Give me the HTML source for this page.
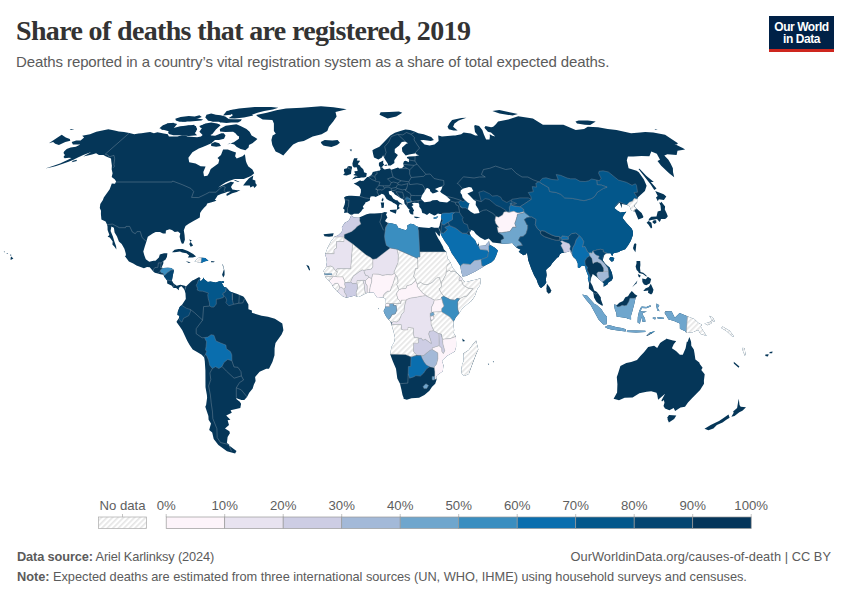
<!DOCTYPE html>
<html><head><meta charset="utf-8">
<style>
html,body{margin:0;padding:0;background:#fff;}
body{width:850px;height:600px;position:relative;overflow:hidden;font-family:"Liberation Sans",sans-serif;}
.t{position:absolute;white-space:nowrap;}
#title{left:16px;top:15px;font-family:"Liberation Serif",serif;font-weight:bold;font-size:28px;letter-spacing:-0.65px;color:#333;}
#sub{left:16px;top:53px;font-size:15px;letter-spacing:-0.1px;color:#5b5b5b;}
#logo{position:absolute;left:769px;top:16px;width:65px;height:33px;background:#002147;border-bottom:3px solid #ce261e;color:#fff;font-weight:bold;font-size:12px;line-height:12px;text-align:center;}
#logo div{padding-top:4.5px;letter-spacing:-0.45px}
.lg{font-size:12.5px;color:#5b5b5b;}
.ft{font-size:12.8px;color:#5b5b5b;}
.ft b{color:#5b5b5b}
svg{position:absolute;left:0;top:0;}
</style></head><body>
<div id="title" class="t">Share of deaths that are registered, 2019</div>
<div id="sub" class="t">Deaths reported in a country’s vital registration system as a share of total expected deaths.</div>
<div id="logo"><div>Our World<br>in Data</div></div>

<svg width="850" height="600" viewBox="0 0 850 600">
<defs>
<pattern id="hatch" width="3.9" height="3.9" patternUnits="userSpaceOnUse" patternTransform="rotate(45)"><rect width="3.9" height="3.9" fill="#fff"/><rect x="0" y="0" width="1.7" height="3.9" fill="#e6e6e6"/></pattern>
</defs>
<g id="legend">
<rect x="98.5" y="517" width="48" height="11.5" fill="url(#hatch)" stroke="#aaa" stroke-width="0.7"/>
<g stroke="#aaa" stroke-width="0.7"><line x1="122.5" y1="514" x2="122.5" y2="517"/><line x1="166.2" y1="514" x2="166.2" y2="517"/><line x1="224.7" y1="514" x2="224.7" y2="517"/><line x1="283.2" y1="514" x2="283.2" y2="517"/><line x1="341.7" y1="514" x2="341.7" y2="517"/><line x1="400.2" y1="514" x2="400.2" y2="517"/><line x1="458.7" y1="514" x2="458.7" y2="517"/><line x1="517.2" y1="514" x2="517.2" y2="517"/><line x1="575.7" y1="514" x2="575.7" y2="517"/><line x1="634.2" y1="514" x2="634.2" y2="517"/><line x1="692.7" y1="514" x2="692.7" y2="517"/><line x1="751.2" y1="514" x2="751.2" y2="517"/></g>
<g stroke="#999" stroke-width="0.7">
<rect x="166.2" y="517" width="58.5" height="11.5" fill="#fdf4fa"/>
<rect x="224.7" y="517" width="58.5" height="11.5" fill="#e8e3f0"/>
<rect x="283.2" y="517" width="58.5" height="11.5" fill="#cdcde4"/>
<rect x="341.7" y="517" width="58.5" height="11.5" fill="#a3b9d8"/>
<rect x="400.2" y="517" width="58.5" height="11.5" fill="#6fa6cd"/>
<rect x="458.7" y="517" width="58.5" height="11.5" fill="#3a8ec0"/>
<rect x="517.2" y="517" width="58.5" height="11.5" fill="#0a6eae"/>
<rect x="575.7" y="517" width="58.5" height="11.5" fill="#03578b"/>
<rect x="634.2" y="517" width="58.5" height="11.5" fill="#044571"/>
<rect x="692.7" y="517" width="58.5" height="11.5" fill="#04355a"/>
</g>
<g font-family="Liberation Sans" font-size="13.2" fill="#5e5e5e" text-anchor="middle">
<text x="122.5" y="510">No data</text>
<text x="166.2" y="510">0%</text>
<text x="224.7" y="510">10%</text>
<text x="283.2" y="510">20%</text>
<text x="341.7" y="510">30%</text>
<text x="400.2" y="510">40%</text>
<text x="458.7" y="510">50%</text>
<text x="517.2" y="510">60%</text>
<text x="575.7" y="510">70%</text>
<text x="634.2" y="510">80%</text>
<text x="692.7" y="510">90%</text>
<text x="751.2" y="510">100%</text>
</g>
</g>
<g id="map"><clipPath id="lc"><path d="M350.9,216.0L352.0,215.7L353.9,217.6L358.6,217.8L362.1,216.3L366.6,214.2L369.9,213.4L374.4,213.4L381.9,213.1L384.7,212.1L387.3,212.6L386.0,214.4L387.4,217.6L385.4,220.2L385.2,221.2L387.6,222.8L392.3,223.5L396.7,224.8L398.1,227.7L403.1,229.5L406.0,230.3L407.6,228.2L407.2,225.6L410.4,223.8L413.7,224.3L416.0,225.9L418.5,226.9L423.2,227.4L429.2,228.0L431.5,226.9L434.4,227.7L438.6,227.7L440.6,232.4L439.6,236.6L437.9,234.7L435.4,231.4L435.8,233.7L438.2,238.4L440.0,241.2L443.0,246.7L443.8,249.3L446.5,251.9L447.5,258.2L450.4,262.3L452.8,268.1L453.3,268.6L456.9,272.7L460.7,276.4L462.4,278.2L461.9,279.3L465.2,282.1L466.4,282.1L470.7,280.8L475.2,279.8L480.4,278.2L480.8,282.1L479.8,285.8L477.6,288.6L474.8,296.2L471.4,300.9L467.6,304.0L463.4,307.6L461.1,310.2L459.1,313.6L455.6,317.5L454.6,319.9L453.4,321.4L453.6,326.9L454.2,330.0L453.7,332.9L455.9,336.5L456.1,342.8L456.1,347.0L454.8,351.4L447.3,355.8L444.9,358.1L442.0,360.8L443.4,365.2L442.8,371.2L437.2,375.3L436.2,376.9L436.7,379.2L435.2,383.7L431.9,387.0L429.4,390.7L424.4,395.1L419.1,397.7L411.5,398.2L406.8,399.8L403.6,398.8L403.5,397.5L402.5,395.1L401.5,389.9L400.0,383.7L397.3,378.5L396.0,368.8L392.8,361.3L390.2,354.2L391.4,347.0L394.2,342.0L395.0,337.8L393.6,332.1L391.6,325.1L390.5,321.7L386.4,317.0L384.8,314.1L383.6,311.0L385.0,308.2L385.9,303.5L385.7,299.0L382.9,297.2L379.5,297.7L377.4,298.0L375.3,294.9L373.5,292.5L369.6,292.5L366.2,293.3L362.9,294.9L358.8,297.0L354.2,295.7L346.2,297.7L342.7,296.2L338.6,292.5L337.0,291.2L333.1,287.1L332.0,284.5L329.1,281.1L325.3,276.9L324.2,272.7L323.5,270.9L325.9,267.5L326.9,262.3L326.5,258.4L325.1,254.5L327.0,249.3L327.7,247.5L331.0,241.2L334.7,236.6L337.9,235.5L341.7,232.1L342.2,230.1L341.9,227.2L344.8,222.8L346.8,221.7L348.6,220.7L350.4,217.6Z"/><path d="M234.6,179.8L239.5,181.8L238.2,182.0L234.3,180.5Z"/><path d="M689.4,337.1L691.1,341.7L691.3,345.7L693.8,349.6L694.5,353.2L695.4,359.4L699.3,362.6L699.8,364.1L702.6,367.8L701.3,370.1L704.7,374.3L703.9,380.8L704.0,383.7L700.1,389.9L695.2,394.9L692.7,397.5L688.0,402.4L685.0,406.8L680.5,407.6L675.1,411.0L673.7,407.9L669.4,410.2L665.0,408.4L663.5,406.0L664.5,402.7L663.8,400.1L662.0,401.6L661.4,400.6L665.1,393.8L658.1,399.8L657.3,395.1L656.5,392.8L651.2,391.2L646.6,391.7L639.4,393.3L632.6,397.5L624.6,397.7L619.0,400.3L613.6,398.8L617.1,392.5L617.4,384.2L616.8,376.9L617.9,374.0L620.4,366.0L626.3,363.1L631.2,362.1L637.0,360.0L640.4,356.1L644.0,352.2L648.2,347.0L654.1,345.7L657.2,348.0L660.1,343.0L662.2,341.5L666.3,339.1L665.7,338.6L673.0,340.4L675.9,341.0L676.1,341.2L673.7,344.3L671.9,348.3L676.0,350.9L679.9,354.8L682.8,354.8L685.6,348.3L686.8,341.7L687.5,342.0Z"/><path d="M230.8,114.7L223.0,115.6L226.7,111.1L233.4,109.7L234.1,112.0Z"/><path d="M257.4,138.9L252.4,143.3L249.0,144.9L248.6,147.4L245.4,150.2L240.6,149.1L236.5,146.7L234.3,144.4L229.7,143.3L227.3,144.4L233.8,142.3L238.9,138.7L239.1,136.5L237.3,135.4L235.4,133.2L233.1,131.7L225.4,132.1L220.1,131.4L219.8,128.9L225.7,125.7L236.4,124.2L240.5,126.1L246.5,128.9L249.6,131.7L251.6,135.4L255.1,137.6Z"/><path d="M189.1,239.4L191.7,240.2L189.3,244.1L190.7,246.7L193.1,245.4L190.4,241.5Z"/><path d="M161.3,128.2L161.7,129.9L166.2,128.9L170.7,127.8L174.4,124.7L173.6,122.8L167.1,123.6L163.1,126.7Z"/><path d="M213.2,121.6L207.4,120.6L210.5,118.6L215.8,118.6Z"/><path d="M614.0,304.5L617.0,305.0L619.3,302.7L623.1,300.9L625.3,297.2L628.0,296.2L629.7,293.6L631.8,291.0L634.3,293.6L634.5,294.1L637.4,295.7L635.6,297.7L634.2,304.3L632.0,312.6L631.0,315.7L631.1,319.6L626.8,318.6L626.8,318.1L623.1,317.5L619.7,317.0L616.7,316.8L616.3,313.1L614.8,309.2Z"/><path d="M366.2,176.8L366.8,173.3L364.0,172.3L363.8,170.8L363.2,169.3L362.2,168.3L360.7,167.1L360.0,165.4L357.7,164.6L358.7,163.9L357.9,163.4L359.4,161.9L360.0,160.7L356.8,160.5L357.6,158.3L354.1,158.3L353.1,161.0L352.4,163.4L352.7,166.1L354.0,167.6L356.7,167.3L357.4,169.5L357.6,171.0L354.4,171.3L354.6,172.5L355.4,173.5L353.2,175.0L355.1,175.5L357.1,175.9L357.5,176.5L355.1,176.5L352.0,179.4L353.4,179.0L355.2,178.6L356.4,178.0L359.4,178.0L361.4,177.5L364.0,177.5Z"/><path d="M652.8,317.5L655.8,317.5L655.2,319.4L652.9,318.8Z"/><path d="M323.5,234.2L333.7,233.2L332.7,236.3L329.0,236.8L324.5,236.3Z"/><path d="M306.2,264.7L308.9,266.0L310.1,270.1L309.2,270.4L307.7,267.5Z"/><path d="M61.7,134.7L65.8,137.6L69.8,138.9L70.3,140.8L65.3,142.1L58.9,144.9L55.2,143.7L53.1,142.1L48.9,143.3Z"/><path d="M462.2,338.6L465.1,341.0L462.8,341.5Z"/><path d="M383.0,197.4L383.5,199.4L382.8,201.5L381.4,200.2Z"/><path d="M414.2,216.5L420.4,217.3L416.5,218.2L414.3,217.6Z"/><path d="M172.0,252.2L174.6,249.8L178.3,249.1L182.5,249.1L187.9,251.1L193.2,254.0L196.1,256.6L192.8,257.4L187.8,257.4L189.2,255.6L186.5,253.2L182.1,252.4L180.0,251.4L176.5,251.9L174.3,252.2Z"/><path d="M433.4,217.8L438.2,216.3L436.9,218.3L434.0,218.9Z"/><path d="M238.0,122.4L230.1,122.6L220.1,122.4L218.2,120.6L223.7,119.0L234.2,119.2L241.8,119.2L240.8,121.0Z"/><path d="M244.0,117.6L234.8,118.6L228.4,118.2L232.7,115.6L231.2,112.0L229.2,110.2L239.0,108.6L254.7,107.0L271.1,106.9L278.4,107.8L272.8,109.4L264.2,111.1L257.5,112.8L252.0,114.7L253.3,115.6Z"/><path d="M351.7,215.2L349.8,214.2L347.5,212.4L344.1,212.9L344.6,209.8L343.1,208.5L344.6,204.6L345.1,202.0L344.8,199.4L344.0,197.6L345.9,196.3L348.9,195.8L351.6,195.8L355.5,196.1L359.7,196.3L360.9,192.2L360.9,189.2L358.9,186.4L353.7,183.6L356.4,182.6L360.2,180.3L361.0,181.0L363.6,180.8L367.2,177.0L368.2,177.0L370.1,176.0L371.9,174.3L372.8,172.0L376.8,171.0L379.9,170.5L380.6,169.5L379.9,167.1L378.9,165.6L378.9,162.7L383.3,160.5L383.1,163.2L384.2,164.6L382.0,167.1L383.1,168.6L384.7,169.5L386.8,169.0L390.0,168.6L391.1,169.8L393.6,169.0L398.0,167.6L399.3,168.6L401.8,168.3L403.7,166.6L403.7,165.4L403.2,163.4L404.0,161.2L405.8,160.7L408.9,162.2L408.9,159.0L407.1,158.3L406.9,156.9L409.0,156.4L415.1,156.2L419.1,155.2L416.6,154.5L415.8,153.3L409.2,154.5L405.7,155.4L404.2,153.8L402.3,151.4L401.9,147.7L406.3,143.7L408.0,143.3L405.2,141.4L401.8,141.9L399.2,145.6L394.8,149.1L394.7,152.6L397.9,155.0L396.9,156.6L394.3,160.2L394.4,162.9L390.7,165.6L388.2,165.6L387.7,163.4L385.7,160.5L384.0,157.4L383.1,155.2L381.9,157.4L378.4,159.5L374.0,157.6L373.1,154.0L372.4,150.2L374.5,149.1L379.4,146.7L382.6,143.5L385.0,141.0L387.9,138.1L390.3,135.4L394.9,132.7L401.1,130.8L405.4,129.5L410.0,130.1L414.5,131.4L418.3,133.2L423.6,134.3L431.2,136.9L433.9,139.9L430.8,141.0L423.6,139.9L420.3,140.3L424.5,144.4L429.6,145.6L434.5,144.4L438.6,141.0L438.2,135.4L436.4,134.9L442.0,136.5L453.4,135.4L455.1,135.4L461.2,134.3L463.6,132.5L470.9,133.6L475.2,135.4L477.9,135.6L475.0,132.1L474.6,128.9L474.2,125.9L475.0,124.9L479.1,126.1L482.3,129.9L483.8,134.3L486.1,139.4L489.5,139.4L489.9,136.5L489.7,134.3L492.4,135.8L495.3,136.5L491.0,132.5L487.9,131.7L484.4,127.8L485.5,126.1L491.1,127.2L493.2,126.7L495.9,124.2L498.1,121.6L508.3,119.6L518.2,116.2L532.9,118.6L542.9,124.7L550.0,124.7L563.4,124.7L575.7,129.9L584.1,128.9L587.8,126.7L598.0,127.2L607.7,128.9L616.5,129.9L631.1,133.2L640.1,132.5L645.2,132.1L653.3,132.5L665.1,134.7L677.9,143.3L676.9,144.4L674.5,144.0L682.7,147.9L685.1,149.5L677.5,150.7L676.6,155.0L667.4,154.2L664.3,155.4L668.4,159.8L670.6,163.4L672.9,168.3L673.0,172.0L674.2,177.3L669.1,173.3L661.2,165.8L657.5,161.0L660.0,159.8L656.8,153.8L651.3,151.4L649.4,156.2L641.4,155.9L633.3,156.6L627.9,156.4L626.8,160.2L628.6,168.3L636.6,170.8L638.8,172.3L643.9,179.5L646.6,185.8L644.9,190.9L638.3,197.1L637.1,199.2L637.1,202.5L634.7,205.1L634.5,206.7L641.6,212.9L643.4,216.8L643.0,217.8L638.3,219.6L635.0,211.6L631.2,210.8L629.7,206.4L627.1,205.1L621.9,204.1L621.8,208.2L619.7,202.8L619.0,203.0L616.8,205.4L614.2,207.9L618.5,211.6L618.4,211.1L620.2,212.6L626.3,211.8L623.6,215.5L622.5,218.1L626.7,223.3L631.8,228.7L632.9,231.6L632.9,235.0L631.0,240.2L630.4,241.5L628.0,245.4L625.2,249.3L620.3,251.1L618.9,251.9L613.5,253.2L612.2,256.3L610.6,253.2L609.2,253.2L606.7,253.2L604.3,255.0L602.8,259.7L602.9,260.5L605.0,263.6L607.9,266.2L609.4,267.3L611.9,272.7L612.9,278.0L611.6,280.6L608.3,282.4L607.3,284.5L603.6,286.8L603.8,283.2L602.3,282.1L601.8,281.6L598.9,279.3L598.6,278.7L596.4,276.7L592.7,274.1L591.8,276.7L591.5,276.4L590.4,281.9L592.5,285.8L593.9,289.7L594.2,290.5L596.3,291.5L597.8,293.1L600.9,297.5L600.8,299.3L603.0,305.3L602.1,305.8L601.4,305.3L598.4,303.5L596.2,301.4L594.0,297.5L593.7,295.1L593.1,292.3L588.8,288.6L589.0,284.5L589.1,283.2L587.8,278.0L588.6,276.9L585.9,270.1L585.2,266.2L581.9,265.5L579.5,268.1L577.8,267.5L577.8,263.6L576.1,259.7L573.2,256.9L569.9,251.1L567.1,251.9L564.1,252.7L561.6,253.0L559.6,254.5L558.8,257.1L557.3,257.6L553.7,261.6L552.3,263.1L550.4,266.0L547.7,268.3L546.0,270.1L546.7,275.1L545.8,279.3L546.3,282.4L544.4,285.2L541.1,288.1L539.7,287.1L537.9,283.4L536.7,279.8L534.2,275.6L531.3,268.8L528.1,259.7L527.7,256.1L526.9,252.4L525.8,254.5L523.6,255.3L520.2,253.0L518.7,251.4L520.8,249.8L517.2,248.0L516.4,247.5L513.4,244.6L512.3,243.1L507.9,243.6L502.8,243.8L501.2,243.6L498.9,243.3L492.6,242.5L488.7,238.4L484.9,239.9L480.2,237.6L475.9,234.0L473.8,231.1L471.2,230.1L469.6,232.7L471.1,236.3L473.9,238.9L475.4,240.7L477.2,244.9L478.8,243.3L477.7,241.2L478.9,244.1L478.8,245.9L485.3,245.4L487.1,243.3L488.5,242.0L489.0,240.5L489.6,244.4L494.9,247.8L497.9,250.6L496.1,255.8L494.2,259.7L491.5,262.3L486.0,264.9L482.1,267.5L475.3,271.4L466.1,275.9L462.5,276.4L461.1,270.7L460.4,266.5L459.9,265.2L456.2,259.7L451.7,253.2L448.6,246.5L444.9,241.5L441.6,236.0L440.6,232.4L438.6,227.7L439.7,225.6L439.9,223.8L440.7,220.9L441.2,219.6L440.9,216.8L441.4,213.9L439.9,213.9L437.9,213.4L435.7,215.0L434.2,215.5L429.4,213.1L427.0,215.0L424.3,213.4L422.3,212.9L421.3,209.2L419.3,206.7L419.3,204.8L418.8,203.5L418.3,203.0L418.1,203.0L414.0,202.8L411.8,203.5L413.6,205.1L411.4,206.4L412.1,206.7L413.7,209.8L414.1,210.5L413.2,211.8L413.4,214.4L411.9,214.4L410.1,213.4L408.8,210.8L409.8,209.8L408.2,208.5L406.5,206.1L404.6,203.8L404.2,201.7L404.1,200.2L402.5,198.9L401.2,198.4L397.5,196.1L394.9,194.5L392.8,191.7L392.1,192.5L391.7,190.7L388.7,191.2L389.0,193.5L389.5,194.5L391.5,195.8L393.1,198.6L395.9,200.2L397.4,200.2L399.0,202.3L401.4,203.5L402.6,204.8L399.8,204.1L398.5,206.4L399.8,207.9L398.6,209.0L396.8,210.0L397.1,207.7L396.9,205.1L394.7,203.5L393.4,203.0L391.8,201.7L389.0,200.4L386.6,198.9L384.8,196.1L384.1,194.8L381.8,193.8L380.0,195.0L379.0,195.3L378.6,195.6L375.7,197.1L374.6,196.6L373.0,196.3L370.7,196.6L369.9,198.6L370.1,200.2L368.0,201.5L365.3,202.5L365.3,203.3L362.8,206.4L363.8,208.5L362.3,209.5L361.3,211.3L358.7,213.7L353.9,213.7Z"/><path d="M349.7,149.5L351.9,149.5L351.1,151.6Z"/><path d="M765.4,354.5L768.7,354.2L767.9,356.6L765.3,356.1Z"/><path d="M769.7,351.9L772.6,351.4L772.1,353.2L769.4,353.2Z"/><path d="M283.3,155.4L279.5,153.3L275.6,151.4L272.3,145.1L271.4,139.9L272.6,135.4L275.8,133.8L273.9,131.0L273.9,127.8L273.9,123.6L272.4,120.0L262.7,119.6L257.6,116.6L256.1,115.1L266.9,112.8L276.3,110.2L286.0,108.6L301.8,107.7L321.0,106.2L333.4,107.3L346.7,109.2L335.5,112.0L336.6,116.6L333.2,121.6L328.9,126.7L327.3,131.0L321.6,134.3L312.7,136.5L303.8,141.0L298.2,142.1L293.1,144.4L289.0,149.1L284.8,153.8Z"/><path d="M611.9,256.9L614.3,257.9L613.4,261.0L611.5,261.8L609.1,259.2L610.3,257.1Z"/><path d="M656.5,303.5L659.3,305.3L657.8,307.9L659.6,311.3L657.3,310.5L656.4,306.6Z"/><path d="M11.1,256.6L13.4,258.4L10.6,260.0L10.6,257.9Z"/><path d="M10.0,254.5L11.7,255.0L10.4,255.8Z"/><path d="M6.8,253.0L8.2,253.7L6.8,254.0Z"/><path d="M3.8,251.4L4.9,251.4L4.2,252.4Z"/><path d="M194.6,261.3L198.9,257.4L205.2,257.9L208.5,260.8L205.1,261.2L201.3,263.1L197.9,262.3L194.8,261.6Z"/><path d="M657.8,201.2L658.8,199.2L663.9,199.9L666.3,196.6L663.7,194.3L655.2,190.9L657.7,196.1L656.0,197.4Z"/><path d="M660.4,203.0L661.3,201.7L665.1,206.4L664.8,209.5L666.5,213.1L667.8,216.3L666.5,218.1L665.1,219.1L660.9,219.1L660.8,219.9L659.6,222.0L657.0,219.1L654.5,219.4L651.5,219.9L648.6,220.7L648.9,218.9L651.2,216.8L656.5,216.5L657.7,211.6L661.0,210.5L660.5,205.6L659.1,202.3Z"/><path d="M320.8,142.1L324.7,140.1L332.3,140.5L337.6,139.9L339.9,142.8L337.0,144.9L331.4,147.0L325.4,146.0L323.3,145.6L321.4,143.5Z"/><path d="M351.3,171.3L351.0,174.0L346.6,175.5L343.1,175.0L344.8,173.0L343.9,171.0L344.1,169.0L347.0,168.3L347.7,166.6L349.2,166.1L351.9,166.6L352.0,168.1L351.6,169.5Z"/><path d="M185.8,261.3L190.7,262.3L188.8,262.9Z"/><path d="M604.8,326.9L608.6,325.1L612.4,325.9L616.7,327.2L621.9,327.9L625.8,329.2L625.6,331.6L617.9,330.5L611.1,329.5L607.5,328.5Z"/><path d="M71.7,162.2L76.8,161.0L76.6,159.8L72.9,160.7Z"/><path d="M648.5,220.9L651.4,222.8L652.2,227.4L651.0,228.5L648.4,224.6L646.6,222.8Z"/><path d="M222.9,264.4L224.5,270.7L224.6,275.1L223.3,277.4L222.1,274.8L223.9,269.4L222.3,264.2Z"/><path d="M627.0,330.5L636.2,330.5L645.4,330.8L645.3,332.1L636.1,332.4L626.9,332.1Z"/><path d="M636.5,261.0L640.2,261.0L640.4,264.9L640.0,268.1L640.5,272.0L643.2,272.7L646.5,275.4L646.6,276.7L642.9,274.1L638.9,273.0L638.2,271.4L636.6,270.1L635.6,266.5L636.5,263.6Z"/><path d="M476.1,340.4L478.3,349.6L476.5,353.5L475.3,356.6L471.5,366.5L468.8,374.0L464.4,375.9L461.9,374.0L461.3,370.1L462.2,363.9L463.7,361.0L463.3,353.5L468.7,350.1L472.9,344.3Z"/><path d="M492.8,361.3L494.0,361.5L493.4,362.6Z"/><path d="M201.3,120.6L190.0,121.6L181.5,121.6L185.6,118.6L195.9,118.2L203.2,119.6Z"/><path d="M643.3,291.0L645.4,288.4L648.8,287.1L650.8,283.7L653.5,289.7L652.6,293.1L651.1,294.6L648.0,292.8L648.3,290.5L644.5,291.0Z"/><path d="M637.8,274.1L640.7,275.4L639.8,277.4L638.6,276.7Z"/><path d="M45.3,168.6L52.1,166.3L60.0,163.4L67.5,160.0L71.5,158.1L69.0,157.8L64.7,158.3L63.5,157.1L64.9,155.0L63.5,153.1L64.1,151.4L66.7,149.1L70.6,147.4L75.9,146.7L80.3,144.6L76.2,144.4L72.9,144.4L71.7,141.9L76.2,140.5L80.6,140.5L84.1,137.6L82.2,135.8L90.0,134.3L96.3,131.7L108.3,129.3L114.6,130.4L118.8,131.4L124.0,131.9L129.3,133.0L134.3,134.3L138.4,133.6L141.5,133.2L146.4,132.5L150.2,132.1L153.9,133.2L157.4,132.3L163.7,133.4L167.8,134.3L168.9,136.5L177.4,136.5L182.0,135.2L185.1,135.4L187.5,136.5L193.9,136.9L197.1,137.2L201.0,136.5L204.6,133.2L210.8,128.9L213.2,129.9L209.6,134.3L211.2,135.4L215.1,135.8L221.3,133.2L223.7,133.2L225.5,135.4L224.0,138.7L219.0,139.9L215.0,139.9L211.4,143.3L206.3,145.6L202.1,147.2L198.8,148.4L192.4,152.3L188.4,157.8L189.1,161.7L189.2,162.2L195.6,163.4L200.6,166.3L205.6,166.6L203.3,172.0L204.0,176.3L207.4,175.8L209.0,173.3L210.7,169.0L215.2,165.8L218.3,163.4L219.3,159.8L217.5,158.1L221.0,155.0L223.1,149.5L227.8,149.5L233.0,151.4L236.0,152.6L235.1,156.2L236.7,158.6L242.5,156.2L244.9,154.2L245.9,161.0L246.8,163.4L248.4,166.6L252.4,169.5L254.2,173.3L251.0,176.0L243.8,179.0L234.8,179.0L229.6,180.8L225.5,182.6L221.6,185.1L218.2,187.6L222.4,185.6L230.8,181.8L234.2,182.6L232.2,184.8L231.0,187.1L232.4,189.4L237.2,190.2L240.4,189.9L236.7,192.0L232.2,193.3L226.8,196.1L226.4,194.0L230.7,191.5L227.5,191.7L225.1,192.7L221.0,194.0L217.6,195.6L215.8,198.4L214.7,199.4L216.4,200.4L214.9,201.2L211.7,202.3L207.2,203.5L206.4,205.6L203.8,207.9L203.0,209.0L201.7,210.5L200.1,213.1L199.8,217.6L197.1,218.9L193.5,220.9L188.7,223.8L185.5,225.9L183.8,230.3L184.6,235.3L184.9,239.7L183.6,243.6L181.9,243.8L180.8,241.2L179.6,236.8L180.3,233.4L178.0,231.6L174.7,231.9L172.0,230.1L169.5,229.3L165.9,230.6L165.7,233.4L163.0,233.4L160.0,232.1L155.7,231.9L153.1,233.2L147.8,236.8L146.4,241.5L144.7,246.7L143.3,251.4L144.3,255.3L145.8,259.2L148.2,261.0L149.3,261.8L153.5,260.8L155.5,260.8L158.9,257.4L159.8,254.5L164.0,253.2L167.4,253.2L166.9,257.1L165.4,259.7L163.4,261.0L163.3,263.6L161.5,267.8L163.3,268.1L167.8,267.8L171.2,268.1L174.0,270.1L172.8,275.4L171.9,280.6L173.4,283.2L176.7,285.8L180.4,284.7L184.7,285.8L186.0,286.5L184.7,290.5L183.6,288.4L181.2,286.0L178.8,287.9L179.0,290.2L176.1,288.1L173.3,288.1L171.9,285.8L167.2,283.4L167.1,280.6L165.3,278.0L164.2,276.7L163.5,274.8L160.3,274.3L157.9,273.5L154.8,272.7L153.3,271.4L149.7,267.3L147.0,267.0L143.9,268.3L136.5,265.5L133.2,263.4L128.9,261.6L127.4,259.5L124.8,256.1L126.0,255.6L125.7,253.2L124.4,248.8L121.7,244.1L118.9,241.5L117.0,236.6L114.6,232.4L113.9,227.7L111.4,226.4L110.6,231.1L112.8,236.3L114.4,241.5L116.1,246.2L116.4,249.6L114.5,246.7L112.4,244.6L112.7,241.5L109.8,237.6L107.6,236.8L109.4,235.0L107.6,230.1L107.5,226.4L107.0,224.6L105.6,221.5L101.4,219.4L100.9,213.9L101.0,210.8L99.8,207.9L100.3,204.1L102.9,199.9L103.8,197.4L109.7,189.2L111.8,183.6L115.0,183.8L116.1,181.5L114.9,179.5L111.7,177.0L112.6,173.3L111.7,169.5L111.7,168.8L111.9,165.8L111.4,162.2L111.0,158.6L108.5,157.4L105.6,156.2L103.5,155.0L98.9,155.0L96.1,153.3L92.1,154.5L83.3,156.6L91.2,152.1L83.3,155.0L77.9,157.4L73.4,159.8L68.5,161.7L62.1,164.1L56.2,166.1L52.3,167.1Z"/><path d="M704.4,323.5L709.1,322.2L712.6,320.1L711.3,323.5L707.7,325.3Z"/><path d="M733.8,361.8L739.4,366.5L738.6,367.8L733.8,363.4Z"/><path d="M256.6,185.8L254.3,187.9L253.3,186.1L250.3,187.4L249.8,185.6L243.1,185.6L245.8,182.0L249.0,178.3L253.3,175.5L252.6,179.5L255.3,180.5L255.5,183.3L256.6,184.6Z"/><path d="M664.6,313.1L665.4,311.3L671.6,311.3L674.8,317.8L679.6,313.1L686.8,316.0L694.3,319.1L698.2,322.7L702.0,324.8L700.7,326.6L702.7,330.0L706.7,336.0L700.5,333.9L698.2,330.0L692.2,332.6L686.4,332.9L685.2,331.3L679.9,328.7L679.8,323.5L673.5,320.7L668.5,319.6L666.8,316.5Z"/><path d="M709.4,315.7L712.8,317.5L714.9,321.2L713.7,321.7L710.4,317.8Z"/><path d="M448.8,129.3L453.5,130.6L457.6,130.6L453.1,126.7L454.5,123.6L458.7,120.6L466.4,117.8L461.3,118.0L452.1,120.0L449.5,123.2L447.5,126.7Z"/><path d="M577.0,123.6L584.8,124.7L590.2,125.1L595.7,121.6L587.8,120.6L578.6,120.6L575.5,121.6Z"/><path d="M738.8,398.8L739.5,405.0L740.7,406.8L746.0,407.3L742.4,410.7L739.3,412.3L734.5,415.9L731.4,416.7L733.7,412.8L733.1,411.5L737.1,408.1L738.2,401.6Z"/><path d="M728.5,414.6L729.6,417.7L726.3,419.8L722.5,422.6L716.9,424.9L713.4,428.5L708.4,430.3L704.5,428.7L710.7,424.9L719.0,421.0L723.5,418.0Z"/><path d="M632.1,287.3L637.4,280.6L636.5,283.2Z"/><path d="M204.1,128.2L200.5,127.8L199.3,126.1L205.1,124.0L208.4,124.7Z"/><path d="M184.8,118.6L177.5,120.0L177.2,118.6L185.6,117.0Z"/><path d="M211.2,261.0L214.8,261.6L213.8,262.3L211.1,262.3Z"/><path d="M487.9,363.6L489.2,363.9L488.5,364.9Z"/><path d="M654.3,189.9L656.5,188.4L650.8,182.0L653.8,182.0L646.2,175.8L639.6,168.8L638.5,169.0L644.8,177.0L650.7,184.6Z"/><path d="M186.0,286.5L190.6,282.1L192.3,280.6L193.7,280.0L199.2,276.9L200.4,278.5L199.6,280.6L201.0,281.1L202.9,279.0L203.5,277.4L204.3,279.3L207.8,281.9L210.3,281.6L215.8,282.6L219.3,281.3L221.5,281.3L221.9,283.2L224.0,287.1L226.3,287.6L229.9,291.5L236.7,293.8L243.3,296.4L244.8,298.3L248.4,304.5L248.4,309.2L251.9,310.5L251.9,312.8L261.6,315.7L268.0,316.8L274.9,318.8L282.3,323.5L283.4,330.3L281.6,334.5L275.5,343.0L274.6,348.3L274.5,355.3L272.4,362.1L269.0,368.8L266.3,368.8L259.6,371.7L255.1,376.9L255.6,381.1L253.8,384.7L252.7,388.6L249.2,392.8L247.0,396.9L244.3,400.1L241.5,400.1L237.8,398.8L236.3,397.7L236.6,399.3L239.6,401.6L241.1,403.7L240.3,408.1L230.6,410.2L231.8,412.8L226.2,415.4L230.4,419.8L227.6,420.3L229.0,424.9L225.0,428.5L229.4,431.3L229.9,433.3L227.6,437.1L226.9,442.9L229.2,444.6L229.1,445.4L236.5,451.1L235.1,453.5L227.0,451.3L218.4,445.1L213.7,438.9L212.2,432.6L209.2,430.0L211.0,423.6L208.6,419.8L208.4,415.9L205.3,406.8L206.1,405.0L207.1,397.7L206.9,395.1L205.5,387.3L205.4,370.6L204.8,361.3L204.2,357.4L201.7,354.8L197.5,352.2L192.7,349.6L189.6,344.9L187.2,340.7L182.3,330.3L180.1,326.9L176.7,322.2L176.6,321.4L178.9,318.3L179.5,315.7L177.4,314.9L177.8,311.8L179.4,307.4L180.1,306.6L182.2,304.5L185.8,299.0L185.5,293.6L184.7,290.5Z"/><path d="M378.1,308.2L379.0,308.4L378.3,309.2Z"/><path d="M380.7,202.5L384.1,202.5L383.8,207.7L381.5,207.9L381.2,205.1Z"/><path d="M657.4,317.0L664.0,317.8L663.3,319.1L657.6,318.6Z"/><path d="M492.4,111.1L499.3,109.9L509.6,112.3L517.9,114.1L512.6,115.6L499.5,113.4Z"/><path d="M656.2,220.2L656.4,222.8L654.4,224.1L652.2,222.0L653.8,220.2Z"/><path d="M389.9,210.0L396.7,209.5L395.9,213.7L390.0,211.3Z"/><path d="M722.6,326.4L729.7,330.8L734.1,336.5L732.5,336.8L726.7,331.3L721.3,327.9Z"/><path d="M211.8,127.8L209.6,126.7L213.8,124.0L220.1,124.0L214.4,126.7Z"/><path d="M221.0,146.0L216.1,146.7L211.2,146.0L211.1,143.7L214.9,141.9L219.2,143.3Z"/><path d="M547.0,283.7L549.5,287.1L551.3,290.5L550.5,292.8L548.4,293.8L546.7,291.5L546.4,288.4Z"/><path d="M639.1,311.3L640.5,307.9L641.7,306.6L646.3,306.9L650.4,305.3L650.9,306.6L646.3,308.2L641.7,307.9L640.7,311.3L642.8,311.5L647.0,311.5L642.8,313.1L642.3,314.1L644.9,318.3L645.5,321.7L642.5,321.7L641.3,317.0L639.9,323.8L637.6,322.5L637.8,317.0Z"/><path d="M582.2,294.6L587.3,295.7L590.2,299.3L594.5,304.0L596.8,305.0L601.4,309.2L603.7,313.1L607.0,317.0L606.5,324.3L603.3,324.6L598.5,319.6L594.3,311.8L590.6,305.0L586.3,300.1Z"/><path d="M379.5,114.7L387.6,118.6L396.2,116.6L402.3,112.8L398.9,111.4L389.1,112.0L380.6,112.3Z"/><path d="M635.1,243.3L636.4,244.1L635.4,252.2L633.5,249.3L633.0,248.0L634.2,244.1Z"/><path d="M669.0,415.1L676.3,415.6L674.1,419.0L668.9,422.6L667.7,419.8L667.5,417.2Z"/><path d="M646.3,335.8L649.8,332.6L655.2,331.1L652.1,333.2L647.2,336.0Z"/><path d="M221.8,281.1L224.1,281.1L223.8,282.9L221.7,282.9Z"/><path d="M742.6,347.7L744.6,348.3L745.6,354.8L744.7,355.8L742.6,350.1Z"/><path d="M193.7,134.3L187.4,133.8L180.3,134.3L173.4,133.6L168.1,133.2L168.7,131.0L172.8,129.5L179.9,126.7L186.2,126.1L194.2,124.7L195.1,126.7L197.0,128.9L196.0,131.7Z"/><path d="M642.2,278.5L645.8,279.3L647.8,276.7L651.2,279.0L650.0,283.2L646.3,285.2L644.0,284.5L642.4,281.9Z"/><path d="M71.3,128.9L74.2,129.5L69.1,130.1Z"/><path d="M654.5,129.5L655.5,128.9L657.7,130.1Z"/><path d="M384.5,166.1L387.5,165.6L386.8,164.4L384.7,164.9Z"/><path d="M159.4,128.2L162.9,125.3L167.6,123.5L173.5,122.9L177.1,124.1L174.7,127.1L172.4,129.4L173.5,130.8L168.8,131.2L164.1,130.0Z"/><path d="M168.8,131.8L172.4,128.2L179.4,126.5L188.8,125.3L195.9,125.9L197.1,129.4L193.5,131.8L197.1,135.3L188.8,135.9L180.6,135.3L173.5,135.3L168.8,134.1Z"/><path d="M175.3,118.8L180.6,117.1L188.8,115.9L194.7,116.5L199.4,115.3L201.8,117.1L197.1,118.8L190.0,120.0L185.3,121.8L179.4,121.8L175.9,120.6Z"/><path d="M200.6,125.9L205.3,123.5L211.2,122.4L217.1,123.5L220.6,125.3L215.9,129.4L212.4,134.1L207.6,136.5L202.9,135.3L199.4,131.8L201.8,128.2Z"/><path d="M206.5,114.7L211.2,113.5L215.9,114.7L220.6,115.3L225.3,116.5L230.0,120.0L232.4,121.8L226.5,122.9L220.6,121.8L213.5,121.8L207.6,120.0L205.3,117.6Z"/></clipPath><g fill="#053658"><path d="M350.9,216.0L352.0,215.7L353.9,217.6L358.6,217.8L362.1,216.3L366.6,214.2L369.9,213.4L374.4,213.4L381.9,213.1L384.7,212.1L387.3,212.6L386.0,214.4L387.4,217.6L385.4,220.2L385.2,221.2L387.6,222.8L392.3,223.5L396.7,224.8L398.1,227.7L403.1,229.5L406.0,230.3L407.6,228.2L407.2,225.6L410.4,223.8L413.7,224.3L416.0,225.9L418.5,226.9L423.2,227.4L429.2,228.0L431.5,226.9L434.4,227.7L438.6,227.7L440.6,232.4L439.6,236.6L437.9,234.7L435.4,231.4L435.8,233.7L438.2,238.4L440.0,241.2L443.0,246.7L443.8,249.3L446.5,251.9L447.5,258.2L450.4,262.3L452.8,268.1L453.3,268.6L456.9,272.7L460.7,276.4L462.4,278.2L461.9,279.3L465.2,282.1L466.4,282.1L470.7,280.8L475.2,279.8L480.4,278.2L480.8,282.1L479.8,285.8L477.6,288.6L474.8,296.2L471.4,300.9L467.6,304.0L463.4,307.6L461.1,310.2L459.1,313.6L455.6,317.5L454.6,319.9L453.4,321.4L453.6,326.9L454.2,330.0L453.7,332.9L455.9,336.5L456.1,342.8L456.1,347.0L454.8,351.4L447.3,355.8L444.9,358.1L442.0,360.8L443.4,365.2L442.8,371.2L437.2,375.3L436.2,376.9L436.7,379.2L435.2,383.7L431.9,387.0L429.4,390.7L424.4,395.1L419.1,397.7L411.5,398.2L406.8,399.8L403.6,398.8L403.5,397.5L402.5,395.1L401.5,389.9L400.0,383.7L397.3,378.5L396.0,368.8L392.8,361.3L390.2,354.2L391.4,347.0L394.2,342.0L395.0,337.8L393.6,332.1L391.6,325.1L390.5,321.7L386.4,317.0L384.8,314.1L383.6,311.0L385.0,308.2L385.9,303.5L385.7,299.0L382.9,297.2L379.5,297.7L377.4,298.0L375.3,294.9L373.5,292.5L369.6,292.5L366.2,293.3L362.9,294.9L358.8,297.0L354.2,295.7L346.2,297.7L342.7,296.2L338.6,292.5L337.0,291.2L333.1,287.1L332.0,284.5L329.1,281.1L325.3,276.9L324.2,272.7L323.5,270.9L325.9,267.5L326.9,262.3L326.5,258.4L325.1,254.5L327.0,249.3L327.7,247.5L331.0,241.2L334.7,236.6L337.9,235.5L341.7,232.1L342.2,230.1L341.9,227.2L344.8,222.8L346.8,221.7L348.6,220.7L350.4,217.6Z"/><path d="M234.6,179.8L239.5,181.8L238.2,182.0L234.3,180.5Z"/><path d="M689.4,337.1L691.1,341.7L691.3,345.7L693.8,349.6L694.5,353.2L695.4,359.4L699.3,362.6L699.8,364.1L702.6,367.8L701.3,370.1L704.7,374.3L703.9,380.8L704.0,383.7L700.1,389.9L695.2,394.9L692.7,397.5L688.0,402.4L685.0,406.8L680.5,407.6L675.1,411.0L673.7,407.9L669.4,410.2L665.0,408.4L663.5,406.0L664.5,402.7L663.8,400.1L662.0,401.6L661.4,400.6L665.1,393.8L658.1,399.8L657.3,395.1L656.5,392.8L651.2,391.2L646.6,391.7L639.4,393.3L632.6,397.5L624.6,397.7L619.0,400.3L613.6,398.8L617.1,392.5L617.4,384.2L616.8,376.9L617.9,374.0L620.4,366.0L626.3,363.1L631.2,362.1L637.0,360.0L640.4,356.1L644.0,352.2L648.2,347.0L654.1,345.7L657.2,348.0L660.1,343.0L662.2,341.5L666.3,339.1L665.7,338.6L673.0,340.4L675.9,341.0L676.1,341.2L673.7,344.3L671.9,348.3L676.0,350.9L679.9,354.8L682.8,354.8L685.6,348.3L686.8,341.7L687.5,342.0Z"/><path d="M230.8,114.7L223.0,115.6L226.7,111.1L233.4,109.7L234.1,112.0Z"/><path d="M257.4,138.9L252.4,143.3L249.0,144.9L248.6,147.4L245.4,150.2L240.6,149.1L236.5,146.7L234.3,144.4L229.7,143.3L227.3,144.4L233.8,142.3L238.9,138.7L239.1,136.5L237.3,135.4L235.4,133.2L233.1,131.7L225.4,132.1L220.1,131.4L219.8,128.9L225.7,125.7L236.4,124.2L240.5,126.1L246.5,128.9L249.6,131.7L251.6,135.4L255.1,137.6Z"/><path d="M189.1,239.4L191.7,240.2L189.3,244.1L190.7,246.7L193.1,245.4L190.4,241.5Z"/><path d="M161.3,128.2L161.7,129.9L166.2,128.9L170.7,127.8L174.4,124.7L173.6,122.8L167.1,123.6L163.1,126.7Z"/><path d="M213.2,121.6L207.4,120.6L210.5,118.6L215.8,118.6Z"/><path d="M614.0,304.5L617.0,305.0L619.3,302.7L623.1,300.9L625.3,297.2L628.0,296.2L629.7,293.6L631.8,291.0L634.3,293.6L634.5,294.1L637.4,295.7L635.6,297.7L634.2,304.3L632.0,312.6L631.0,315.7L631.1,319.6L626.8,318.6L626.8,318.1L623.1,317.5L619.7,317.0L616.7,316.8L616.3,313.1L614.8,309.2Z"/><path d="M366.2,176.8L366.8,173.3L364.0,172.3L363.8,170.8L363.2,169.3L362.2,168.3L360.7,167.1L360.0,165.4L357.7,164.6L358.7,163.9L357.9,163.4L359.4,161.9L360.0,160.7L356.8,160.5L357.6,158.3L354.1,158.3L353.1,161.0L352.4,163.4L352.7,166.1L354.0,167.6L356.7,167.3L357.4,169.5L357.6,171.0L354.4,171.3L354.6,172.5L355.4,173.5L353.2,175.0L355.1,175.5L357.1,175.9L357.5,176.5L355.1,176.5L352.0,179.4L353.4,179.0L355.2,178.6L356.4,178.0L359.4,178.0L361.4,177.5L364.0,177.5Z"/><path d="M652.8,317.5L655.8,317.5L655.2,319.4L652.9,318.8Z"/><path d="M323.5,234.2L333.7,233.2L332.7,236.3L329.0,236.8L324.5,236.3Z"/><path d="M306.2,264.7L308.9,266.0L310.1,270.1L309.2,270.4L307.7,267.5Z"/><path d="M61.7,134.7L65.8,137.6L69.8,138.9L70.3,140.8L65.3,142.1L58.9,144.9L55.2,143.7L53.1,142.1L48.9,143.3Z"/><path d="M462.2,338.6L465.1,341.0L462.8,341.5Z"/><path d="M383.0,197.4L383.5,199.4L382.8,201.5L381.4,200.2Z"/><path d="M414.2,216.5L420.4,217.3L416.5,218.2L414.3,217.6Z"/><path d="M172.0,252.2L174.6,249.8L178.3,249.1L182.5,249.1L187.9,251.1L193.2,254.0L196.1,256.6L192.8,257.4L187.8,257.4L189.2,255.6L186.5,253.2L182.1,252.4L180.0,251.4L176.5,251.9L174.3,252.2Z"/><path d="M433.4,217.8L438.2,216.3L436.9,218.3L434.0,218.9Z"/><path d="M238.0,122.4L230.1,122.6L220.1,122.4L218.2,120.6L223.7,119.0L234.2,119.2L241.8,119.2L240.8,121.0Z"/><path d="M244.0,117.6L234.8,118.6L228.4,118.2L232.7,115.6L231.2,112.0L229.2,110.2L239.0,108.6L254.7,107.0L271.1,106.9L278.4,107.8L272.8,109.4L264.2,111.1L257.5,112.8L252.0,114.7L253.3,115.6Z"/><path d="M351.7,215.2L349.8,214.2L347.5,212.4L344.1,212.9L344.6,209.8L343.1,208.5L344.6,204.6L345.1,202.0L344.8,199.4L344.0,197.6L345.9,196.3L348.9,195.8L351.6,195.8L355.5,196.1L359.7,196.3L360.9,192.2L360.9,189.2L358.9,186.4L353.7,183.6L356.4,182.6L360.2,180.3L361.0,181.0L363.6,180.8L367.2,177.0L368.2,177.0L370.1,176.0L371.9,174.3L372.8,172.0L376.8,171.0L379.9,170.5L380.6,169.5L379.9,167.1L378.9,165.6L378.9,162.7L383.3,160.5L383.1,163.2L384.2,164.6L382.0,167.1L383.1,168.6L384.7,169.5L386.8,169.0L390.0,168.6L391.1,169.8L393.6,169.0L398.0,167.6L399.3,168.6L401.8,168.3L403.7,166.6L403.7,165.4L403.2,163.4L404.0,161.2L405.8,160.7L408.9,162.2L408.9,159.0L407.1,158.3L406.9,156.9L409.0,156.4L415.1,156.2L419.1,155.2L416.6,154.5L415.8,153.3L409.2,154.5L405.7,155.4L404.2,153.8L402.3,151.4L401.9,147.7L406.3,143.7L408.0,143.3L405.2,141.4L401.8,141.9L399.2,145.6L394.8,149.1L394.7,152.6L397.9,155.0L396.9,156.6L394.3,160.2L394.4,162.9L390.7,165.6L388.2,165.6L387.7,163.4L385.7,160.5L384.0,157.4L383.1,155.2L381.9,157.4L378.4,159.5L374.0,157.6L373.1,154.0L372.4,150.2L374.5,149.1L379.4,146.7L382.6,143.5L385.0,141.0L387.9,138.1L390.3,135.4L394.9,132.7L401.1,130.8L405.4,129.5L410.0,130.1L414.5,131.4L418.3,133.2L423.6,134.3L431.2,136.9L433.9,139.9L430.8,141.0L423.6,139.9L420.3,140.3L424.5,144.4L429.6,145.6L434.5,144.4L438.6,141.0L438.2,135.4L436.4,134.9L442.0,136.5L453.4,135.4L455.1,135.4L461.2,134.3L463.6,132.5L470.9,133.6L475.2,135.4L477.9,135.6L475.0,132.1L474.6,128.9L474.2,125.9L475.0,124.9L479.1,126.1L482.3,129.9L483.8,134.3L486.1,139.4L489.5,139.4L489.9,136.5L489.7,134.3L492.4,135.8L495.3,136.5L491.0,132.5L487.9,131.7L484.4,127.8L485.5,126.1L491.1,127.2L493.2,126.7L495.9,124.2L498.1,121.6L508.3,119.6L518.2,116.2L532.9,118.6L542.9,124.7L550.0,124.7L563.4,124.7L575.7,129.9L584.1,128.9L587.8,126.7L598.0,127.2L607.7,128.9L616.5,129.9L631.1,133.2L640.1,132.5L645.2,132.1L653.3,132.5L665.1,134.7L677.9,143.3L676.9,144.4L674.5,144.0L682.7,147.9L685.1,149.5L677.5,150.7L676.6,155.0L667.4,154.2L664.3,155.4L668.4,159.8L670.6,163.4L672.9,168.3L673.0,172.0L674.2,177.3L669.1,173.3L661.2,165.8L657.5,161.0L660.0,159.8L656.8,153.8L651.3,151.4L649.4,156.2L641.4,155.9L633.3,156.6L627.9,156.4L626.8,160.2L628.6,168.3L636.6,170.8L638.8,172.3L643.9,179.5L646.6,185.8L644.9,190.9L638.3,197.1L637.1,199.2L637.1,202.5L634.7,205.1L634.5,206.7L641.6,212.9L643.4,216.8L643.0,217.8L638.3,219.6L635.0,211.6L631.2,210.8L629.7,206.4L627.1,205.1L621.9,204.1L621.8,208.2L619.7,202.8L619.0,203.0L616.8,205.4L614.2,207.9L618.5,211.6L618.4,211.1L620.2,212.6L626.3,211.8L623.6,215.5L622.5,218.1L626.7,223.3L631.8,228.7L632.9,231.6L632.9,235.0L631.0,240.2L630.4,241.5L628.0,245.4L625.2,249.3L620.3,251.1L618.9,251.9L613.5,253.2L612.2,256.3L610.6,253.2L609.2,253.2L606.7,253.2L604.3,255.0L602.8,259.7L602.9,260.5L605.0,263.6L607.9,266.2L609.4,267.3L611.9,272.7L612.9,278.0L611.6,280.6L608.3,282.4L607.3,284.5L603.6,286.8L603.8,283.2L602.3,282.1L601.8,281.6L598.9,279.3L598.6,278.7L596.4,276.7L592.7,274.1L591.8,276.7L591.5,276.4L590.4,281.9L592.5,285.8L593.9,289.7L594.2,290.5L596.3,291.5L597.8,293.1L600.9,297.5L600.8,299.3L603.0,305.3L602.1,305.8L601.4,305.3L598.4,303.5L596.2,301.4L594.0,297.5L593.7,295.1L593.1,292.3L588.8,288.6L589.0,284.5L589.1,283.2L587.8,278.0L588.6,276.9L585.9,270.1L585.2,266.2L581.9,265.5L579.5,268.1L577.8,267.5L577.8,263.6L576.1,259.7L573.2,256.9L569.9,251.1L567.1,251.9L564.1,252.7L561.6,253.0L559.6,254.5L558.8,257.1L557.3,257.6L553.7,261.6L552.3,263.1L550.4,266.0L547.7,268.3L546.0,270.1L546.7,275.1L545.8,279.3L546.3,282.4L544.4,285.2L541.1,288.1L539.7,287.1L537.9,283.4L536.7,279.8L534.2,275.6L531.3,268.8L528.1,259.7L527.7,256.1L526.9,252.4L525.8,254.5L523.6,255.3L520.2,253.0L518.7,251.4L520.8,249.8L517.2,248.0L516.4,247.5L513.4,244.6L512.3,243.1L507.9,243.6L502.8,243.8L501.2,243.6L498.9,243.3L492.6,242.5L488.7,238.4L484.9,239.9L480.2,237.6L475.9,234.0L473.8,231.1L471.2,230.1L469.6,232.7L471.1,236.3L473.9,238.9L475.4,240.7L477.2,244.9L478.8,243.3L477.7,241.2L478.9,244.1L478.8,245.9L485.3,245.4L487.1,243.3L488.5,242.0L489.0,240.5L489.6,244.4L494.9,247.8L497.9,250.6L496.1,255.8L494.2,259.7L491.5,262.3L486.0,264.9L482.1,267.5L475.3,271.4L466.1,275.9L462.5,276.4L461.1,270.7L460.4,266.5L459.9,265.2L456.2,259.7L451.7,253.2L448.6,246.5L444.9,241.5L441.6,236.0L440.6,232.4L438.6,227.7L439.7,225.6L439.9,223.8L440.7,220.9L441.2,219.6L440.9,216.8L441.4,213.9L439.9,213.9L437.9,213.4L435.7,215.0L434.2,215.5L429.4,213.1L427.0,215.0L424.3,213.4L422.3,212.9L421.3,209.2L419.3,206.7L419.3,204.8L418.8,203.5L418.3,203.0L418.1,203.0L414.0,202.8L411.8,203.5L413.6,205.1L411.4,206.4L412.1,206.7L413.7,209.8L414.1,210.5L413.2,211.8L413.4,214.4L411.9,214.4L410.1,213.4L408.8,210.8L409.8,209.8L408.2,208.5L406.5,206.1L404.6,203.8L404.2,201.7L404.1,200.2L402.5,198.9L401.2,198.4L397.5,196.1L394.9,194.5L392.8,191.7L392.1,192.5L391.7,190.7L388.7,191.2L389.0,193.5L389.5,194.5L391.5,195.8L393.1,198.6L395.9,200.2L397.4,200.2L399.0,202.3L401.4,203.5L402.6,204.8L399.8,204.1L398.5,206.4L399.8,207.9L398.6,209.0L396.8,210.0L397.1,207.7L396.9,205.1L394.7,203.5L393.4,203.0L391.8,201.7L389.0,200.4L386.6,198.9L384.8,196.1L384.1,194.8L381.8,193.8L380.0,195.0L379.0,195.3L378.6,195.6L375.7,197.1L374.6,196.6L373.0,196.3L370.7,196.6L369.9,198.6L370.1,200.2L368.0,201.5L365.3,202.5L365.3,203.3L362.8,206.4L363.8,208.5L362.3,209.5L361.3,211.3L358.7,213.7L353.9,213.7Z"/><path d="M349.7,149.5L351.9,149.5L351.1,151.6Z"/><path d="M765.4,354.5L768.7,354.2L767.9,356.6L765.3,356.1Z"/><path d="M769.7,351.9L772.6,351.4L772.1,353.2L769.4,353.2Z"/><path d="M283.3,155.4L279.5,153.3L275.6,151.4L272.3,145.1L271.4,139.9L272.6,135.4L275.8,133.8L273.9,131.0L273.9,127.8L273.9,123.6L272.4,120.0L262.7,119.6L257.6,116.6L256.1,115.1L266.9,112.8L276.3,110.2L286.0,108.6L301.8,107.7L321.0,106.2L333.4,107.3L346.7,109.2L335.5,112.0L336.6,116.6L333.2,121.6L328.9,126.7L327.3,131.0L321.6,134.3L312.7,136.5L303.8,141.0L298.2,142.1L293.1,144.4L289.0,149.1L284.8,153.8Z"/><path d="M611.9,256.9L614.3,257.9L613.4,261.0L611.5,261.8L609.1,259.2L610.3,257.1Z"/><path d="M656.5,303.5L659.3,305.3L657.8,307.9L659.6,311.3L657.3,310.5L656.4,306.6Z"/><path d="M11.1,256.6L13.4,258.4L10.6,260.0L10.6,257.9Z"/><path d="M10.0,254.5L11.7,255.0L10.4,255.8Z"/><path d="M6.8,253.0L8.2,253.7L6.8,254.0Z"/><path d="M3.8,251.4L4.9,251.4L4.2,252.4Z"/><path d="M194.6,261.3L198.9,257.4L205.2,257.9L208.5,260.8L205.1,261.2L201.3,263.1L197.9,262.3L194.8,261.6Z"/><path d="M657.8,201.2L658.8,199.2L663.9,199.9L666.3,196.6L663.7,194.3L655.2,190.9L657.7,196.1L656.0,197.4Z"/><path d="M660.4,203.0L661.3,201.7L665.1,206.4L664.8,209.5L666.5,213.1L667.8,216.3L666.5,218.1L665.1,219.1L660.9,219.1L660.8,219.9L659.6,222.0L657.0,219.1L654.5,219.4L651.5,219.9L648.6,220.7L648.9,218.9L651.2,216.8L656.5,216.5L657.7,211.6L661.0,210.5L660.5,205.6L659.1,202.3Z"/><path d="M320.8,142.1L324.7,140.1L332.3,140.5L337.6,139.9L339.9,142.8L337.0,144.9L331.4,147.0L325.4,146.0L323.3,145.6L321.4,143.5Z"/><path d="M351.3,171.3L351.0,174.0L346.6,175.5L343.1,175.0L344.8,173.0L343.9,171.0L344.1,169.0L347.0,168.3L347.7,166.6L349.2,166.1L351.9,166.6L352.0,168.1L351.6,169.5Z"/><path d="M185.8,261.3L190.7,262.3L188.8,262.9Z"/><path d="M604.8,326.9L608.6,325.1L612.4,325.9L616.7,327.2L621.9,327.9L625.8,329.2L625.6,331.6L617.9,330.5L611.1,329.5L607.5,328.5Z"/><path d="M71.7,162.2L76.8,161.0L76.6,159.8L72.9,160.7Z"/><path d="M648.5,220.9L651.4,222.8L652.2,227.4L651.0,228.5L648.4,224.6L646.6,222.8Z"/><path d="M222.9,264.4L224.5,270.7L224.6,275.1L223.3,277.4L222.1,274.8L223.9,269.4L222.3,264.2Z"/><path d="M627.0,330.5L636.2,330.5L645.4,330.8L645.3,332.1L636.1,332.4L626.9,332.1Z"/><path d="M636.5,261.0L640.2,261.0L640.4,264.9L640.0,268.1L640.5,272.0L643.2,272.7L646.5,275.4L646.6,276.7L642.9,274.1L638.9,273.0L638.2,271.4L636.6,270.1L635.6,266.5L636.5,263.6Z"/><path d="M476.1,340.4L478.3,349.6L476.5,353.5L475.3,356.6L471.5,366.5L468.8,374.0L464.4,375.9L461.9,374.0L461.3,370.1L462.2,363.9L463.7,361.0L463.3,353.5L468.7,350.1L472.9,344.3Z"/><path d="M492.8,361.3L494.0,361.5L493.4,362.6Z"/><path d="M201.3,120.6L190.0,121.6L181.5,121.6L185.6,118.6L195.9,118.2L203.2,119.6Z"/><path d="M643.3,291.0L645.4,288.4L648.8,287.1L650.8,283.7L653.5,289.7L652.6,293.1L651.1,294.6L648.0,292.8L648.3,290.5L644.5,291.0Z"/><path d="M637.8,274.1L640.7,275.4L639.8,277.4L638.6,276.7Z"/><path d="M45.3,168.6L52.1,166.3L60.0,163.4L67.5,160.0L71.5,158.1L69.0,157.8L64.7,158.3L63.5,157.1L64.9,155.0L63.5,153.1L64.1,151.4L66.7,149.1L70.6,147.4L75.9,146.7L80.3,144.6L76.2,144.4L72.9,144.4L71.7,141.9L76.2,140.5L80.6,140.5L84.1,137.6L82.2,135.8L90.0,134.3L96.3,131.7L108.3,129.3L114.6,130.4L118.8,131.4L124.0,131.9L129.3,133.0L134.3,134.3L138.4,133.6L141.5,133.2L146.4,132.5L150.2,132.1L153.9,133.2L157.4,132.3L163.7,133.4L167.8,134.3L168.9,136.5L177.4,136.5L182.0,135.2L185.1,135.4L187.5,136.5L193.9,136.9L197.1,137.2L201.0,136.5L204.6,133.2L210.8,128.9L213.2,129.9L209.6,134.3L211.2,135.4L215.1,135.8L221.3,133.2L223.7,133.2L225.5,135.4L224.0,138.7L219.0,139.9L215.0,139.9L211.4,143.3L206.3,145.6L202.1,147.2L198.8,148.4L192.4,152.3L188.4,157.8L189.1,161.7L189.2,162.2L195.6,163.4L200.6,166.3L205.6,166.6L203.3,172.0L204.0,176.3L207.4,175.8L209.0,173.3L210.7,169.0L215.2,165.8L218.3,163.4L219.3,159.8L217.5,158.1L221.0,155.0L223.1,149.5L227.8,149.5L233.0,151.4L236.0,152.6L235.1,156.2L236.7,158.6L242.5,156.2L244.9,154.2L245.9,161.0L246.8,163.4L248.4,166.6L252.4,169.5L254.2,173.3L251.0,176.0L243.8,179.0L234.8,179.0L229.6,180.8L225.5,182.6L221.6,185.1L218.2,187.6L222.4,185.6L230.8,181.8L234.2,182.6L232.2,184.8L231.0,187.1L232.4,189.4L237.2,190.2L240.4,189.9L236.7,192.0L232.2,193.3L226.8,196.1L226.4,194.0L230.7,191.5L227.5,191.7L225.1,192.7L221.0,194.0L217.6,195.6L215.8,198.4L214.7,199.4L216.4,200.4L214.9,201.2L211.7,202.3L207.2,203.5L206.4,205.6L203.8,207.9L203.0,209.0L201.7,210.5L200.1,213.1L199.8,217.6L197.1,218.9L193.5,220.9L188.7,223.8L185.5,225.9L183.8,230.3L184.6,235.3L184.9,239.7L183.6,243.6L181.9,243.8L180.8,241.2L179.6,236.8L180.3,233.4L178.0,231.6L174.7,231.9L172.0,230.1L169.5,229.3L165.9,230.6L165.7,233.4L163.0,233.4L160.0,232.1L155.7,231.9L153.1,233.2L147.8,236.8L146.4,241.5L144.7,246.7L143.3,251.4L144.3,255.3L145.8,259.2L148.2,261.0L149.3,261.8L153.5,260.8L155.5,260.8L158.9,257.4L159.8,254.5L164.0,253.2L167.4,253.2L166.9,257.1L165.4,259.7L163.4,261.0L163.3,263.6L161.5,267.8L163.3,268.1L167.8,267.8L171.2,268.1L174.0,270.1L172.8,275.4L171.9,280.6L173.4,283.2L176.7,285.8L180.4,284.7L184.7,285.8L186.0,286.5L184.7,290.5L183.6,288.4L181.2,286.0L178.8,287.9L179.0,290.2L176.1,288.1L173.3,288.1L171.9,285.8L167.2,283.4L167.1,280.6L165.3,278.0L164.2,276.7L163.5,274.8L160.3,274.3L157.9,273.5L154.8,272.7L153.3,271.4L149.7,267.3L147.0,267.0L143.9,268.3L136.5,265.5L133.2,263.4L128.9,261.6L127.4,259.5L124.8,256.1L126.0,255.6L125.7,253.2L124.4,248.8L121.7,244.1L118.9,241.5L117.0,236.6L114.6,232.4L113.9,227.7L111.4,226.4L110.6,231.1L112.8,236.3L114.4,241.5L116.1,246.2L116.4,249.6L114.5,246.7L112.4,244.6L112.7,241.5L109.8,237.6L107.6,236.8L109.4,235.0L107.6,230.1L107.5,226.4L107.0,224.6L105.6,221.5L101.4,219.4L100.9,213.9L101.0,210.8L99.8,207.9L100.3,204.1L102.9,199.9L103.8,197.4L109.7,189.2L111.8,183.6L115.0,183.8L116.1,181.5L114.9,179.5L111.7,177.0L112.6,173.3L111.7,169.5L111.7,168.8L111.9,165.8L111.4,162.2L111.0,158.6L108.5,157.4L105.6,156.2L103.5,155.0L98.9,155.0L96.1,153.3L92.1,154.5L83.3,156.6L91.2,152.1L83.3,155.0L77.9,157.4L73.4,159.8L68.5,161.7L62.1,164.1L56.2,166.1L52.3,167.1Z"/><path d="M704.4,323.5L709.1,322.2L712.6,320.1L711.3,323.5L707.7,325.3Z"/><path d="M733.8,361.8L739.4,366.5L738.6,367.8L733.8,363.4Z"/><path d="M256.6,185.8L254.3,187.9L253.3,186.1L250.3,187.4L249.8,185.6L243.1,185.6L245.8,182.0L249.0,178.3L253.3,175.5L252.6,179.5L255.3,180.5L255.5,183.3L256.6,184.6Z"/><path d="M664.6,313.1L665.4,311.3L671.6,311.3L674.8,317.8L679.6,313.1L686.8,316.0L694.3,319.1L698.2,322.7L702.0,324.8L700.7,326.6L702.7,330.0L706.7,336.0L700.5,333.9L698.2,330.0L692.2,332.6L686.4,332.9L685.2,331.3L679.9,328.7L679.8,323.5L673.5,320.7L668.5,319.6L666.8,316.5Z"/><path d="M709.4,315.7L712.8,317.5L714.9,321.2L713.7,321.7L710.4,317.8Z"/><path d="M448.8,129.3L453.5,130.6L457.6,130.6L453.1,126.7L454.5,123.6L458.7,120.6L466.4,117.8L461.3,118.0L452.1,120.0L449.5,123.2L447.5,126.7Z"/><path d="M577.0,123.6L584.8,124.7L590.2,125.1L595.7,121.6L587.8,120.6L578.6,120.6L575.5,121.6Z"/><path d="M738.8,398.8L739.5,405.0L740.7,406.8L746.0,407.3L742.4,410.7L739.3,412.3L734.5,415.9L731.4,416.7L733.7,412.8L733.1,411.5L737.1,408.1L738.2,401.6Z"/><path d="M728.5,414.6L729.6,417.7L726.3,419.8L722.5,422.6L716.9,424.9L713.4,428.5L708.4,430.3L704.5,428.7L710.7,424.9L719.0,421.0L723.5,418.0Z"/><path d="M632.1,287.3L637.4,280.6L636.5,283.2Z"/><path d="M204.1,128.2L200.5,127.8L199.3,126.1L205.1,124.0L208.4,124.7Z"/><path d="M184.8,118.6L177.5,120.0L177.2,118.6L185.6,117.0Z"/><path d="M211.2,261.0L214.8,261.6L213.8,262.3L211.1,262.3Z"/><path d="M487.9,363.6L489.2,363.9L488.5,364.9Z"/><path d="M654.3,189.9L656.5,188.4L650.8,182.0L653.8,182.0L646.2,175.8L639.6,168.8L638.5,169.0L644.8,177.0L650.7,184.6Z"/><path d="M186.0,286.5L190.6,282.1L192.3,280.6L193.7,280.0L199.2,276.9L200.4,278.5L199.6,280.6L201.0,281.1L202.9,279.0L203.5,277.4L204.3,279.3L207.8,281.9L210.3,281.6L215.8,282.6L219.3,281.3L221.5,281.3L221.9,283.2L224.0,287.1L226.3,287.6L229.9,291.5L236.7,293.8L243.3,296.4L244.8,298.3L248.4,304.5L248.4,309.2L251.9,310.5L251.9,312.8L261.6,315.7L268.0,316.8L274.9,318.8L282.3,323.5L283.4,330.3L281.6,334.5L275.5,343.0L274.6,348.3L274.5,355.3L272.4,362.1L269.0,368.8L266.3,368.8L259.6,371.7L255.1,376.9L255.6,381.1L253.8,384.7L252.7,388.6L249.2,392.8L247.0,396.9L244.3,400.1L241.5,400.1L237.8,398.8L236.3,397.7L236.6,399.3L239.6,401.6L241.1,403.7L240.3,408.1L230.6,410.2L231.8,412.8L226.2,415.4L230.4,419.8L227.6,420.3L229.0,424.9L225.0,428.5L229.4,431.3L229.9,433.3L227.6,437.1L226.9,442.9L229.2,444.6L229.1,445.4L236.5,451.1L235.1,453.5L227.0,451.3L218.4,445.1L213.7,438.9L212.2,432.6L209.2,430.0L211.0,423.6L208.6,419.8L208.4,415.9L205.3,406.8L206.1,405.0L207.1,397.7L206.9,395.1L205.5,387.3L205.4,370.6L204.8,361.3L204.2,357.4L201.7,354.8L197.5,352.2L192.7,349.6L189.6,344.9L187.2,340.7L182.3,330.3L180.1,326.9L176.7,322.2L176.6,321.4L178.9,318.3L179.5,315.7L177.4,314.9L177.8,311.8L179.4,307.4L180.1,306.6L182.2,304.5L185.8,299.0L185.5,293.6L184.7,290.5Z"/><path d="M378.1,308.2L379.0,308.4L378.3,309.2Z"/><path d="M380.7,202.5L384.1,202.5L383.8,207.7L381.5,207.9L381.2,205.1Z"/><path d="M657.4,317.0L664.0,317.8L663.3,319.1L657.6,318.6Z"/><path d="M492.4,111.1L499.3,109.9L509.6,112.3L517.9,114.1L512.6,115.6L499.5,113.4Z"/><path d="M656.2,220.2L656.4,222.8L654.4,224.1L652.2,222.0L653.8,220.2Z"/><path d="M389.9,210.0L396.7,209.5L395.9,213.7L390.0,211.3Z"/><path d="M722.6,326.4L729.7,330.8L734.1,336.5L732.5,336.8L726.7,331.3L721.3,327.9Z"/><path d="M211.8,127.8L209.6,126.7L213.8,124.0L220.1,124.0L214.4,126.7Z"/><path d="M221.0,146.0L216.1,146.7L211.2,146.0L211.1,143.7L214.9,141.9L219.2,143.3Z"/><path d="M547.0,283.7L549.5,287.1L551.3,290.5L550.5,292.8L548.4,293.8L546.7,291.5L546.4,288.4Z"/><path d="M639.1,311.3L640.5,307.9L641.7,306.6L646.3,306.9L650.4,305.3L650.9,306.6L646.3,308.2L641.7,307.9L640.7,311.3L642.8,311.5L647.0,311.5L642.8,313.1L642.3,314.1L644.9,318.3L645.5,321.7L642.5,321.7L641.3,317.0L639.9,323.8L637.6,322.5L637.8,317.0Z"/><path d="M582.2,294.6L587.3,295.7L590.2,299.3L594.5,304.0L596.8,305.0L601.4,309.2L603.7,313.1L607.0,317.0L606.5,324.3L603.3,324.6L598.5,319.6L594.3,311.8L590.6,305.0L586.3,300.1Z"/><path d="M379.5,114.7L387.6,118.6L396.2,116.6L402.3,112.8L398.9,111.4L389.1,112.0L380.6,112.3Z"/><path d="M635.1,243.3L636.4,244.1L635.4,252.2L633.5,249.3L633.0,248.0L634.2,244.1Z"/><path d="M669.0,415.1L676.3,415.6L674.1,419.0L668.9,422.6L667.7,419.8L667.5,417.2Z"/><path d="M646.3,335.8L649.8,332.6L655.2,331.1L652.1,333.2L647.2,336.0Z"/><path d="M221.8,281.1L224.1,281.1L223.8,282.9L221.7,282.9Z"/><path d="M742.6,347.7L744.6,348.3L745.6,354.8L744.7,355.8L742.6,350.1Z"/><path d="M193.7,134.3L187.4,133.8L180.3,134.3L173.4,133.6L168.1,133.2L168.7,131.0L172.8,129.5L179.9,126.7L186.2,126.1L194.2,124.7L195.1,126.7L197.0,128.9L196.0,131.7Z"/><path d="M642.2,278.5L645.8,279.3L647.8,276.7L651.2,279.0L650.0,283.2L646.3,285.2L644.0,284.5L642.4,281.9Z"/><path d="M71.3,128.9L74.2,129.5L69.1,130.1Z"/><path d="M654.5,129.5L655.5,128.9L657.7,130.1Z"/><path d="M384.5,166.1L387.5,165.6L386.8,164.4L384.7,164.9Z"/><path d="M159.4,128.2L162.9,125.3L167.6,123.5L173.5,122.9L177.1,124.1L174.7,127.1L172.4,129.4L173.5,130.8L168.8,131.2L164.1,130.0Z"/><path d="M168.8,131.8L172.4,128.2L179.4,126.5L188.8,125.3L195.9,125.9L197.1,129.4L193.5,131.8L197.1,135.3L188.8,135.9L180.6,135.3L173.5,135.3L168.8,134.1Z"/><path d="M175.3,118.8L180.6,117.1L188.8,115.9L194.7,116.5L199.4,115.3L201.8,117.1L197.1,118.8L190.0,120.0L185.3,121.8L179.4,121.8L175.9,120.6Z"/><path d="M200.6,125.9L205.3,123.5L211.2,122.4L217.1,123.5L220.6,125.3L215.9,129.4L212.4,134.1L207.6,136.5L202.9,135.3L199.4,131.8L201.8,128.2Z"/><path d="M206.5,114.7L211.2,113.5L215.9,114.7L220.6,115.3L225.3,116.5L230.0,120.0L232.4,121.8L226.5,122.9L220.6,121.8L213.5,121.8L207.6,120.0L205.3,117.6Z"/></g><g clip-path="url(#lc)" stroke-width="0.45" stroke-linejoin="round"><path d="M358.6,215.5L359.7,218.3L359.5,220.7L360.8,224.1L357.0,226.4L355.3,228.5L351.7,231.4L344.1,234.5L344.1,237.1L332.3,237.1L338.0,232.4L340.3,227.2L342.7,222.0L349.3,216.8L351.5,214.7Z" fill="#cdcde4" stroke="#b8b8b8"/><path d="M344.1,237.1L344.0,241.5L336.6,241.5L336.5,248.0L334.0,249.8L334.1,253.7L322.8,253.7L325.3,246.7L329.9,240.2L332.3,237.1Z" fill="url(#hatch)" stroke="#b8b8b8"/><path d="M344.0,238.1L352.7,244.1L350.9,266.5L350.9,268.8L337.2,268.8L335.6,270.9L332.7,267.0L330.5,266.0L325.9,267.3L323.6,267.3L324.0,253.7L334.1,253.7L334.0,249.8L336.5,248.0L336.6,241.5L344.0,241.5Z" fill="#e8e3f0" stroke="#b8b8b8"/><path d="M352.7,244.1L366.1,255.0L370.6,257.6L372.9,259.5L372.9,266.5L371.4,269.1L363.9,270.4L362.3,269.9L358.8,272.0L356.6,273.8L353.4,276.1L351.3,280.0L350.8,282.1L349.2,282.6L346.0,282.6L344.9,282.6L344.4,280.6L342.8,276.9L337.4,276.9L335.5,276.4L337.4,271.7L335.6,270.9L337.2,268.8L350.9,268.8L350.9,266.5Z" fill="url(#hatch)" stroke="#b8b8b8"/><path d="M372.9,259.5L376.5,258.7L390.3,248.0L397.1,249.3L398.4,255.3L398.1,262.6L394.2,271.7L394.4,273.5L391.5,275.1L387.8,274.6L382.6,275.4L378.7,274.3L372.8,274.1L371.6,278.7L368.9,277.2L368.2,276.1L365.7,275.4L364.3,272.7L363.9,270.4L371.4,269.1L372.9,266.5Z" fill="#e8e3f0" stroke="#b8b8b8"/><path d="M397.1,249.3L417.7,258.4L418.0,268.3L415.5,268.8L414.7,272.5L413.6,276.4L415.8,279.5L415.6,280.8L411.5,284.5L406.9,285.8L406.0,288.4L401.2,288.9L399.0,289.7L396.6,284.5L398.0,283.2L397.7,278.5L396.7,276.4L395.8,275.1L394.4,273.5L394.2,271.7L398.1,262.6L398.4,255.3Z" fill="url(#hatch)" stroke="#b8b8b8"/><path d="M419.7,251.9L446.5,251.9L448.9,251.9L451.7,261.0L450.9,262.3L447.4,264.9L446.3,271.7L445.8,275.4L444.9,276.4L443.2,279.8L441.9,281.6L441.5,284.5L441.0,283.2L439.3,277.4L436.5,278.0L432.1,282.6L427.5,284.7L424.1,284.5L420.6,282.4L417.2,284.2L415.6,280.8L415.8,279.5L413.6,276.4L414.7,272.5L415.5,268.8L418.0,268.3L417.7,258.4L417.6,257.1L419.9,257.1Z" fill="url(#hatch)" stroke="#b8b8b8"/><path d="M417.2,284.2L420.6,282.4L424.1,284.5L427.5,284.7L432.1,282.6L436.5,278.0L439.3,277.4L441.0,283.2L441.5,284.5L441.3,287.1L439.1,288.9L441.4,293.1L443.8,296.2L441.5,297.2L441.5,298.3L440.4,299.3L436.9,300.1L434.2,300.1L430.0,297.7L426.6,296.2L426.3,295.4L423.1,293.6L420.8,291.0L417.3,286.5Z" fill="url(#hatch)" stroke="#b8b8b8"/><path d="M446.3,271.7L446.4,267.5L447.4,264.9L450.9,262.3L451.7,261.0L454.4,267.5L456.8,271.4L462.7,276.4L460.2,276.7L458.1,274.1L454.8,271.4L452.3,271.2L450.9,271.7L449.7,270.4Z" fill="url(#hatch)" stroke="#b8b8b8"/><path d="M458.9,278.7L460.2,276.7L462.7,276.4L463.1,279.3L461.5,280.6L459.0,280.6Z" fill="#e8e3f0" stroke="#b8b8b8"/><path d="M441.5,284.5L441.9,281.6L443.2,279.8L444.9,276.4L445.8,275.4L446.3,271.7L449.7,270.4L450.9,271.7L452.3,271.2L454.8,271.4L458.1,274.1L460.2,276.7L458.9,278.7L459.0,280.6L461.5,280.6L463.0,284.5L464.2,285.8L468.9,288.4L473.2,288.4L466.8,296.2L464.5,296.4L462.2,297.5L459.7,298.8L457.1,298.3L455.1,300.1L450.7,299.8L446.1,297.5L443.8,296.2L441.4,293.1L439.1,288.9L441.3,287.1Z" fill="url(#hatch)" stroke="#b8b8b8"/><path d="M461.5,280.6L463.1,279.3L464.0,280.6L468.6,279.3L475.4,278.5L481.1,277.4L481.9,281.9L478.1,291.0L474.8,296.7L469.2,304.5L462.3,311.8L459.1,313.6L457.7,309.2L457.6,301.9L459.7,298.8L462.2,297.5L464.5,296.4L466.8,296.2L473.2,288.4L468.9,288.4L464.2,285.8L463.0,284.5Z" fill="url(#hatch)" stroke="#b8b8b8"/><path d="M459.1,313.6L457.7,309.2L457.6,301.9L459.7,298.8L457.1,298.3L455.1,300.1L450.7,299.8L446.1,297.5L443.8,296.2L441.5,297.2L441.5,298.3L442.7,302.7L443.9,306.1L441.6,308.7L441.4,311.8L449.8,317.0L453.4,321.4L455.3,319.6L457.7,315.7Z" fill="#3a8ec0" stroke="#6f8294"/><path d="M441.5,298.3L440.4,299.3L436.9,300.1L434.2,300.1L433.5,303.0L431.5,307.1L431.5,312.8L433.5,312.1L441.4,311.8L441.6,308.7L443.9,306.1L442.7,302.7Z" fill="#fdf4fa" stroke="#b8b8b8"/><path d="M430.1,313.1L433.5,312.1L434.4,314.4L433.5,315.7L430.1,316.5Z" fill="#6fa6cd" stroke="#6f8294"/><path d="M430.1,316.5L433.5,315.7L434.2,318.3L431.6,320.9L430.5,318.3Z" fill="#fdf4fa" stroke="#b8b8b8"/><path d="M441.4,311.8L449.8,317.0L453.4,321.4L455.3,322.2L455.1,330.0L457.2,336.5L455.9,336.5L450.3,338.6L444.6,339.1L442.5,339.4L441.3,333.9L438.8,333.7L434.9,331.6L433.8,330.8L431.1,324.8L430.9,320.9L431.6,320.9L434.2,318.3L433.5,315.7L434.4,314.4L433.5,312.1Z" fill="url(#hatch)" stroke="#b8b8b8"/><path d="M390.9,325.3L393.2,324.6L401.1,324.6L401.5,329.5L403.5,330.0L407.9,330.0L408.1,327.4L413.4,328.2L413.3,333.9L414.4,337.8L418.3,337.8L418.3,338.4L421.3,338.4L422.8,340.2L425.6,339.4L428.3,341.5L431.4,343.8L431.0,341.0L428.7,333.9L429.6,331.3L433.8,330.8L431.1,324.8L430.9,320.9L430.5,318.3L430.1,316.5L430.1,313.1L431.5,312.8L431.5,307.1L433.5,303.0L434.2,300.1L430.0,297.7L426.6,296.2L426.3,295.4L420.8,296.2L416.2,297.2L410.5,298.0L407.1,299.3L406.1,300.1L404.3,306.6L403.9,311.8L401.3,314.4L400.6,317.0L399.0,320.4L396.7,322.0L393.5,321.4L392.3,322.2Z" fill="#e8e3f0" stroke="#b8b8b8"/><path d="M387.5,319.6L391.0,322.2L392.3,322.2L393.5,321.4L396.7,322.0L399.0,320.4L400.6,317.0L401.3,314.4L403.9,311.8L404.3,306.6L406.1,300.1L401.3,300.1L400.6,303.5L396.7,303.5L394.0,303.5L393.3,305.6L396.1,305.6L396.7,310.5L395.1,313.9L392.1,314.4L390.3,317.8L388.9,319.4Z" fill="url(#hatch)" stroke="#b8b8b8"/><path d="M384.8,306.6L389.4,306.6L389.4,303.5L394.0,303.5L393.3,305.6L396.1,305.6L396.7,310.5L395.1,313.9L392.1,314.4L390.3,317.8L388.9,319.4L386.4,319.1L382.5,311.8L384.1,306.6Z" fill="#6fa6cd" stroke="#6f8294"/><path d="M384.8,306.6L389.4,306.6L389.4,303.5L385.9,303.5L384.1,305.3Z" fill="#fdf4fa" stroke="#b8b8b8"/><path d="M382.9,297.2L384.1,301.4L385.9,303.5L389.4,303.5L394.0,303.5L396.7,303.5L400.6,303.5L400.4,301.4L397.9,298.8L396.9,295.4L396.7,293.1L399.0,289.7L396.6,284.5L398.0,283.2L397.7,278.5L396.7,276.4L395.8,275.1L394.9,277.2L392.7,284.5L391.4,287.3L390.2,291.0L387.5,291.2L385.2,293.1L383.6,294.9Z" fill="url(#hatch)" stroke="#b8b8b8"/><path d="M399.0,289.7L401.2,288.9L406.0,288.4L406.9,285.8L411.5,284.5L415.6,280.8L417.2,284.2L417.3,286.5L420.8,291.0L423.1,293.6L426.3,295.4L420.8,296.2L416.2,297.2L410.5,298.0L407.1,299.3L406.1,300.1L401.3,300.1L400.6,303.5L400.4,301.4L397.9,298.8L396.9,295.4L396.7,293.1Z" fill="#fdf4fa" stroke="#b8b8b8"/><path d="M369.6,292.5L369.6,289.7L370.3,285.8L371.6,281.9L371.6,278.7L372.8,274.1L378.7,274.3L382.6,275.4L387.8,274.6L391.5,275.1L394.4,273.5L395.8,275.1L394.9,277.2L392.7,284.5L391.4,287.3L390.2,291.0L387.5,291.2L385.2,293.1L383.6,294.9L382.9,297.2L381.8,300.1L377.2,300.1L372.6,294.9L369.6,294.9Z" fill="#fdf4fa" stroke="#b8b8b8"/><path d="M367.1,294.9L369.6,294.9L369.6,292.5L369.6,289.7L370.3,285.8L371.6,281.9L371.6,278.7L368.9,277.2L366.6,279.5L365.5,280.6L365.5,283.2L367.1,285.8L367.1,293.1Z" fill="#fdf4fa" stroke="#b8b8b8"/><path d="M366.2,294.9L367.1,294.9L367.1,293.1L367.1,285.8L365.5,283.2L365.5,280.6L363.4,280.3L363.2,281.6L364.1,284.5L364.5,288.4L364.8,291.2L366.2,293.3Z" fill="#e8e3f0" stroke="#b8b8b8"/><path d="M356.3,298.0L358.8,298.8L366.2,294.9L366.2,293.3L364.8,291.2L364.5,288.4L364.1,284.5L363.2,281.6L363.4,280.3L357.0,280.6L356.8,283.9L357.2,284.5L357.4,288.4L356.1,292.3L356.3,295.9Z" fill="url(#hatch)" stroke="#b8b8b8"/><path d="M350.8,282.1L351.3,280.0L353.4,276.1L356.6,273.8L358.8,272.0L362.3,269.9L363.9,270.4L364.3,272.7L365.7,275.4L368.2,276.1L368.9,277.2L366.6,279.5L365.5,280.6L363.4,280.3L357.0,280.6L356.8,283.9L355.2,283.4L352.6,283.7Z" fill="#e8e3f0" stroke="#b8b8b8"/><path d="M346.2,298.8L356.3,298.0L356.3,295.9L356.1,292.3L357.4,288.4L357.2,284.5L356.8,283.9L355.2,283.4L352.6,283.7L350.8,282.1L349.2,282.6L346.0,282.6L344.9,282.6L344.6,284.5L345.5,287.1L343.9,289.2L344.4,292.3L346.2,294.9Z" fill="#cdcde4" stroke="#b8b8b8"/><path d="M346.2,298.8L341.6,297.5L336.3,291.8L337.0,291.2L338.6,289.7L339.8,287.1L341.6,287.3L343.9,289.2L344.4,292.3L346.2,294.9Z" fill="#e8e3f0" stroke="#b8b8b8"/><path d="M337.0,291.2L338.6,289.7L339.8,287.1L338.9,285.0L337.8,283.2L334.8,283.4L332.9,285.5L331.8,287.1L335.9,292.3Z" fill="url(#hatch)" stroke="#b8b8b8"/><path d="M332.9,285.5L334.8,283.4L337.8,283.2L338.9,285.0L339.8,287.1L341.6,287.3L343.9,289.2L345.5,287.1L344.6,284.5L344.9,282.6L344.4,280.6L342.8,276.9L337.4,276.9L335.5,276.4L332.1,276.1L332.1,278.0L329.1,280.6L327.9,281.9L331.3,285.8Z" fill="#fdf4fa" stroke="#b8b8b8"/><path d="M332.1,276.1L325.3,276.9L324.5,279.3L327.9,281.9L329.1,280.6L332.1,278.0Z" fill="url(#hatch)" stroke="#b8b8b8"/><path d="M325.3,276.9L332.1,276.1L335.5,276.4L337.4,271.7L335.6,270.9L332.7,267.0L330.5,266.0L325.9,267.3L323.6,267.5L322.9,270.9L323.9,276.9Z" fill="url(#hatch)" stroke="#b8b8b8"/><path d="M324.2,273.7L331.9,273.7L331.9,274.6L324.2,274.6Z" fill="#0a6eae" stroke="#6f8294"/><path d="M388.5,222.8L385.8,227.2L385.2,230.6L384.5,236.3L385.0,240.2L386.3,245.4L390.3,248.0L397.1,249.3L417.7,258.4L417.6,257.1L419.9,257.1L419.7,251.9L418.6,231.1L418.0,228.5L418.5,226.9L418.0,223.3L407.0,222.0L388.4,220.7Z" fill="#3a8ec0" stroke="#6f8294"/><path d="M413.6,343.0L413.4,351.4L416.5,355.0L420.8,355.5L423.5,355.8L427.0,352.7L430.5,350.1L432.6,349.8L432.2,348.0L439.1,345.7L439.2,341.7L439.0,333.9L438.8,333.7L434.9,331.6L433.8,330.8L429.6,331.3L428.7,333.9L431.0,341.0L431.4,343.8L428.3,341.5L425.6,339.4L422.8,340.2L421.3,338.4L418.3,338.4L418.2,343.0Z" fill="#cdcde4" stroke="#b8b8b8"/><path d="M438.8,333.7L441.0,334.2L442.5,339.4L443.0,344.3L443.8,347.0L444.8,350.9L443.3,353.7L441.8,351.4L441.7,348.3L439.1,345.7L439.2,341.7L439.0,333.9Z" fill="#cdcde4" stroke="#b8b8b8"/><path d="M455.9,336.5L457.3,335.2L457.9,348.3L449.5,357.4L443.5,363.9L443.7,371.7L437.1,376.9L436.7,379.2L434.7,379.0L434.6,376.6L434.9,375.6L434.9,371.7L434.3,367.3L433.8,367.5L436.5,363.9L437.8,358.7L437.7,352.9L432.6,349.8L432.2,348.0L439.1,345.7L441.7,348.3L441.8,351.4L443.3,353.7L444.8,350.9L443.8,347.0L443.0,344.3L442.5,339.4L444.6,339.1L450.3,338.6Z" fill="#fdf4fa" stroke="#b8b8b8"/><path d="M420.8,355.5L423.5,355.8L427.0,352.7L430.5,350.1L432.6,349.8L437.7,352.9L437.8,358.7L436.5,363.9L433.8,367.5L429.6,366.7L426.5,365.2L424.3,362.6L422.2,358.7Z" fill="#a3b9d8" stroke="#b8b8b8"/><path d="M408.4,366.5L408.2,373.8L409.6,378.2L413.6,376.9L415.9,375.6L420.4,376.1L423.7,373.0L426.3,369.1L429.6,366.7L426.5,365.2L424.3,362.6L422.2,358.7L420.8,355.5L416.2,355.8L411.0,356.8L410.7,366.5Z" fill="#0a6eae" stroke="#6f8294"/><path d="M423.1,386.5L425.9,383.7L428.5,385.5L426.7,388.6L424.0,388.6Z" fill="#6fa6cd" stroke="#6f8294"/><path d="M432.2,376.4L434.9,376.6L434.4,380.0L432.4,380.0L432.1,378.2Z" fill="#6fa6cd" stroke="#6f8294"/><path d="M389.8,322.2L390.9,325.3L393.2,324.6L401.1,324.6L401.5,329.5L403.5,330.0L407.9,330.0L408.1,327.4L413.4,328.2L413.3,333.9L414.4,337.8L418.3,337.8L418.2,343.0L413.6,343.0L413.4,351.4L416.5,355.0L411.0,356.8L408.7,355.8L405.4,354.5L394.7,354.2L390.2,354.2L388.4,354.2L389.7,343.0L392.1,330.0Z" fill="url(#hatch)" stroke="#b8b8b8"/><path d="M476.1,339.1L479.4,349.6L476.5,353.5L471.5,366.5L468.7,375.6L464.3,376.9L460.8,374.0L459.9,370.1L461.0,363.9L462.8,353.5L468.8,349.0L473.0,343.0Z" fill="url(#hatch)" stroke="#b8b8b8"/><path d="M439.8,233.7L440.8,232.7L443.3,233.2L444.1,232.4L447.2,229.8L444.7,227.2L449.3,225.4L455.8,228.2L462.3,233.2L466.6,233.4L468.8,235.0L470.8,235.0L472.2,236.3L476.0,240.2L477.2,244.9L478.8,245.9L480.2,249.3L487.5,250.1L488.6,251.9L487.6,257.1L481.1,259.7L474.4,260.8L470.1,264.9L468.9,264.4L463.2,263.9L461.5,264.9L460.7,266.5L458.8,266.5L456.2,259.7L451.3,253.2L448.2,246.5L444.7,241.5L441.1,236.3Z" fill="#0a6eae" stroke="#6f8294"/><path d="M460.7,266.5L461.5,264.9L463.2,263.9L468.9,264.4L470.1,264.9L474.4,260.8L481.1,259.7L482.0,266.0L484.0,266.0L484.0,268.8L475.1,272.7L466.2,277.2L462.3,277.2L460.2,271.4L459.3,266.5Z" fill="#a3b9d8" stroke="#b8b8b8"/><path d="M482.0,266.0L481.1,259.7L487.6,257.1L488.6,251.9L488.5,246.2L489.6,244.4L491.1,245.4L495.8,247.5L499.0,250.6L496.6,256.3L494.3,261.0L488.3,264.9L484.0,266.0Z" fill="#0a6eae" stroke="#6f8294"/><path d="M478.8,245.9L480.2,249.3L487.5,250.1L488.6,251.9L488.5,246.2L489.6,244.4L489.8,242.0L488.4,241.5L486.3,242.8L484.3,244.4L479.9,245.4Z" fill="#a3b9d8" stroke="#b8b8b8"/><path d="M449.3,225.4L455.8,228.2L462.3,233.2L466.6,233.4L468.7,230.8L470.7,232.4L471.2,230.1L469.2,229.8L468.4,228.5L467.4,224.6L463.9,223.3L462.3,219.4L463.1,217.6L461.5,215.7L459.6,212.4L455.7,212.1L454.5,212.6L452.4,214.4L452.5,219.4L448.1,222.2Z" fill="#044571" stroke="#6f8294"/><path d="M440.8,216.0L440.6,218.1L441.6,219.1L443.0,220.2L441.8,222.5L441.7,224.1L444.0,225.1L448.1,222.2L452.5,219.4L452.4,214.4L454.5,212.6L451.9,212.6L449.4,213.1L445.1,213.1L442.2,213.4L441.5,215.0Z" fill="#0a6eae" stroke="#6f8294"/><path d="M440.8,232.7L443.3,233.2L444.1,232.4L447.2,229.8L444.7,227.2L449.3,225.4L448.1,222.2L444.0,225.1L441.7,224.1L441.4,227.2Z" fill="#044571" stroke="#6f8294"/><path d="M458.2,202.0L461.0,200.4L463.0,201.7L465.2,200.4L467.8,202.5L470.4,204.1L468.6,206.4L467.9,209.2L465.7,207.9L462.5,207.9L460.1,206.4L459.8,205.1Z" fill="#03578b" stroke="#6f8294"/><path d="M478.8,192.2L483.6,190.9L489.6,193.8L492.3,196.1L497.4,195.6L501.0,197.4L502.0,199.9L506.8,202.5L508.6,201.5L511.3,199.9L512.7,201.2L516.3,202.5L513.5,203.8L510.6,204.6L509.3,207.7L509.6,210.3L509.0,212.4L506.1,211.8L505.7,210.3L500.7,207.2L495.9,205.1L492.3,202.0L489.1,199.4L485.1,198.6L481.3,201.7Z" fill="#044571" stroke="#6f8294"/><path d="M509.0,212.4L513.9,211.3L517.1,212.9L519.3,212.9L524.1,211.8L523.5,209.0L520.1,206.7L515.3,206.1L511.9,205.4L509.8,203.5L512.1,202.8L510.7,205.1L509.3,207.7L509.6,210.3Z" fill="#0a6eae" stroke="#6f8294"/><path d="M511.0,201.2L512.1,199.2L517.1,198.6L520.0,197.9L528.3,197.9L531.4,199.4L528.5,201.2L524.2,204.1L520.1,206.7L515.3,206.1L511.9,205.4L516.6,203.5L513.0,202.0Z" fill="#044571" stroke="#6f8294"/><path d="M498.3,232.4L497.2,227.2L499.0,227.4L495.8,223.3L495.0,220.2L495.8,216.5L498.7,217.3L502.6,215.0L504.0,212.1L506.1,211.8L509.0,212.4L513.9,211.3L517.1,212.9L519.3,212.9L524.1,211.8L523.6,212.9L517.5,214.2L517.0,216.8L515.8,220.7L514.8,223.3L516.1,227.2L512.8,227.2L510.2,231.1L509.8,231.4L501.7,232.7Z" fill="#fdf4fa" stroke="#b8b8b8"/><path d="M501.2,243.6L501.0,240.2L504.1,238.4L502.8,235.5L498.3,232.4L501.7,232.7L509.8,231.4L510.2,231.1L512.8,227.2L516.1,227.2L514.8,223.3L515.8,220.7L517.0,216.8L517.5,214.2L523.6,212.9L524.1,211.8L525.9,213.4L530.0,216.8L531.7,216.8L527.0,217.6L524.2,219.4L526.2,223.3L526.7,224.6L527.7,225.1L527.6,228.5L526.8,231.1L526.0,233.7L523.3,236.3L520.1,236.8L518.4,240.2L521.0,242.8L522.5,245.4L517.6,245.9L516.4,247.5L513.7,246.7L506.7,244.6L501.3,244.6Z" fill="#6fa6cd" stroke="#6f8294"/><path d="M516.4,247.5L517.6,245.9L522.5,245.4L521.0,242.8L518.4,240.2L520.1,236.8L523.3,236.3L526.0,233.7L526.8,231.1L527.6,228.5L527.7,225.1L526.7,224.6L526.2,223.3L524.2,219.4L527.0,217.6L531.7,216.8L536.1,219.4L535.3,224.6L537.3,228.5L540.3,231.1L540.9,234.2L544.5,236.6L548.8,238.1L552.8,239.4L556.3,240.2L559.9,240.2L559.4,236.6L561.0,238.1L561.7,239.4L568.4,239.2L568.1,236.8L571.6,233.7L575.8,232.9L579.4,235.8L576.3,239.7L574.9,244.1L573.0,247.5L571.9,252.2L571.3,254.5L568.6,254.5L563.2,255.8L557.8,258.4L554.0,263.6L548.8,268.8L546.8,271.4L547.4,278.0L547.2,283.2L544.5,287.1L541.2,289.7L537.5,285.8L533.6,276.7L529.5,268.8L527.0,259.7L525.8,254.5L521.5,256.3L517.6,251.9L515.6,248.0Z" fill="#044571" stroke="#6f8294"/><path d="M540.9,234.2L544.5,236.6L548.8,238.1L552.8,239.4L556.3,240.2L559.9,240.2L559.4,236.6L555.5,236.3L551.9,235.0L548.2,233.2L544.5,231.1L542.1,230.6L540.3,231.1Z" fill="#053658" stroke="#6f8294"/><path d="M561.7,239.4L568.4,239.2L568.1,236.8L565.5,236.3L562.1,235.8L561.0,238.1Z" fill="#0a6eae" stroke="#6f8294"/><path d="M564.1,252.7L563.2,249.8L562.3,248.0L561.0,245.4L562.4,243.3L560.6,241.5L562.0,240.7L563.9,241.8L569.2,243.8L570.3,246.2L569.6,249.1L572.2,254.0L571.7,255.8L566.3,253.7Z" fill="#cdcde4" stroke="#b8b8b8"/><path d="M606.7,253.2L607.4,257.1L612.9,263.6L616.4,257.1L626.6,251.1L633.4,245.4L634.3,232.4L632.5,227.2L627.8,223.3L624.1,216.8L627.3,211.6L620.0,209.8L615.2,206.4L619.2,201.7L627.1,205.1L629.1,202.5L632.6,201.2L634.2,198.6L637.1,199.2L637.2,197.4L634.0,192.5L637.5,192.2L636.5,185.3L635.4,183.8L632.0,185.3L626.5,182.3L618.3,180.0L608.4,172.0L603.1,170.8L599.0,171.3L598.6,173.3L601.1,178.3L599.4,180.8L596.7,180.0L597.1,184.6L601.4,185.1L607.1,187.1L603.4,188.4L597.4,192.2L594.5,196.6L591.4,198.6L584.0,200.7L572.4,198.4L564.7,197.9L560.8,194.3L556.2,192.5L549.6,191.5L548.7,187.6L540.9,183.1L538.7,181.8L535.8,183.3L536.5,187.1L532.2,186.6L533.3,191.7L528.2,192.5L530.8,196.6L531.4,199.4L528.5,201.2L524.2,204.1L520.1,206.7L523.5,209.0L524.1,211.8L525.9,213.4L530.0,216.8L531.7,216.8L536.1,219.4L535.3,224.6L537.3,228.5L540.3,231.1L542.1,230.6L544.5,231.1L548.2,233.2L551.9,235.0L555.5,236.3L559.4,236.6L561.0,238.1L562.1,235.8L565.5,236.3L568.1,236.8L571.6,233.7L575.8,232.9L579.4,235.8L581.4,237.6L583.8,241.8L582.3,247.0L584.9,246.5L587.4,251.7L589.2,253.2L591.2,253.0L591.5,254.0L593.1,250.9L595.1,250.6L597.2,249.8L600.5,249.3L603.3,249.8L603.2,251.9Z" fill="#03578b" stroke="#6f8294"/><path d="M539.6,181.5L542.4,178.3L546.1,177.8L552.0,179.5L558.3,180.0L556.2,174.5L560.6,175.3L567.1,178.0L570.6,178.8L575.5,178.8L580.0,181.3L585.2,181.5L588.8,180.8L591.6,179.0L596.7,180.0L597.1,184.6L601.4,185.1L607.1,187.1L603.4,188.4L597.4,192.2L594.5,196.6L591.4,198.6L584.0,200.7L572.4,198.4L564.7,197.9L560.8,194.3L556.2,192.5L549.6,191.5L548.7,187.6L540.9,183.1Z" fill="#03578b" stroke="#6f8294"/><path d="M627.1,205.1L629.1,202.5L632.6,201.2L634.2,198.6L637.1,199.2L638.1,199.9L637.1,202.5L634.7,205.1L634.5,206.7L637.2,208.7L634.8,209.5L634.4,210.8L631.4,211.3L629.2,209.0L627.0,205.4Z" fill="url(#hatch)" stroke="#b8b8b8"/><path d="M572.2,254.0L571.9,252.2L573.0,247.5L574.9,244.1L576.3,239.7L579.4,235.8L581.4,237.6L583.8,241.8L582.3,247.0L584.9,246.5L587.4,251.7L589.2,253.2L591.2,253.0L589.4,256.1L586.9,257.6L584.9,260.8L585.2,264.9L587.5,267.0L587.0,269.9L589.8,275.4L590.2,279.3L589.3,282.4L587.8,283.7L586.0,275.4L583.8,266.2L579.6,268.8L577.1,267.5L576.1,259.7L572.3,256.3Z" fill="#0a6eae" stroke="#6f8294"/><path d="M589.2,253.2L591.2,253.0L591.5,254.0L593.1,250.9L594.4,253.2L596.2,255.0L599.3,256.1L598.5,258.4L601.5,260.3L605.0,263.9L607.9,268.1L608.5,270.9L605.4,271.7L603.2,272.0L603.8,271.4L603.6,268.1L600.9,263.6L597.2,261.8L594.8,262.3L593.0,263.6L592.0,258.4L590.4,256.6Z" fill="#a3b9d8" stroke="#b8b8b8"/><path d="M598.6,278.7L599.0,280.6L602.4,282.4L602.3,282.1L604.7,280.6L606.4,279.0L609.0,277.2L608.5,270.9L605.4,271.7L603.2,272.0L598.1,272.0L596.8,273.8L597.8,277.4Z" fill="#a3b9d8" stroke="#b8b8b8"/><path d="M606.7,253.2L603.2,251.9L603.3,249.8L600.5,249.3L597.2,249.8L595.1,250.6L593.1,250.9L594.4,253.2L596.2,255.0L599.3,256.1L598.5,258.4L601.5,260.3L605.0,263.9L607.9,268.1L608.5,270.9L609.0,277.2L606.4,279.0L604.7,280.6L602.3,282.1L602.7,284.5L603.0,287.6L608.0,285.0L613.7,279.3L613.1,272.7L610.0,266.8L603.4,260.5L602.9,257.1L605.6,253.2Z" fill="#044571" stroke="#6f8294"/><path d="M615.4,304.0L617.5,306.9L619.8,306.6L622.1,305.3L624.4,305.8L626.7,305.3L628.9,301.4L629.9,298.3L633.6,298.3L635.6,298.0L637.1,309.2L632.2,320.9L616.2,318.3L612.9,309.2L614.0,304.0Z" fill="#6fa6cd" stroke="#6f8294"/><path d="M579.2,293.6L588.4,293.6L595.6,302.7L603.8,309.2L609.3,317.0L607.8,326.1L602.1,326.1L596.6,320.9L591.0,313.1L582.9,301.4Z" fill="#6fa6cd" stroke="#6f8294"/><path d="M603.2,326.1L609.1,323.5L620.5,325.6L629.5,328.7L626.9,333.2L610.9,331.3L603.1,328.7Z" fill="#6fa6cd" stroke="#6f8294"/><path d="M626.0,329.5L646.6,329.5L646.3,333.9L625.6,333.9Z" fill="#6fa6cd" stroke="#6f8294"/><path d="M635.9,310.5L640.5,305.3L651.9,304.0L652.0,307.9L648.6,310.5L648.5,314.4L647.0,323.5L640.0,325.3L636.2,323.5L636.5,315.7Z" fill="#6fa6cd" stroke="#6f8294"/><path d="M687.5,316.0L686.4,332.9L684.1,333.9L675.6,324.8L664.4,319.6L663.5,311.8L671.6,310.0L680.7,312.6Z" fill="#6fa6cd" stroke="#6f8294"/><path d="M687.5,316.0L686.4,332.9L690.8,335.2L708.8,337.8L718.1,324.8L716.3,314.4L703.7,313.1L696.7,317.0L687.6,315.2Z" fill="url(#hatch)" stroke="#b8b8b8"/><path d="M644.9,336.5L649.9,333.9L650.0,330.5L645.2,332.6Z" fill="#6fa6cd" stroke="#6f8294"/><path d="M649.9,333.9L650.0,330.5L655.7,330.5L655.6,332.1Z" fill="#3a8ec0" stroke="#6f8294"/><path d="M162.8,268.3L160.3,270.1L160.4,271.7L161.6,273.0L163.2,273.0L163.3,274.6L164.1,275.4L165.6,274.6L167.3,272.7L169.3,271.4L171.0,270.1L174.0,270.1L174.7,267.5L167.9,267.0L162.6,267.5Z" fill="#3a8ec0" stroke="#6f8294"/><path d="M164.1,275.4L165.6,274.6L167.3,272.7L169.3,271.4L171.0,270.1L174.0,270.1L174.9,270.1L173.5,280.6L171.9,280.8L169.7,280.6L167.4,280.0L166.6,281.1L163.1,276.7L163.3,274.8Z" fill="#044571" stroke="#6f8294"/><path d="M201.3,257.9L200.9,262.3L200.7,264.2L209.3,262.3L209.7,258.4L201.5,256.6Z" fill="#0a6eae" stroke="#6f8294"/><path d="M201.3,257.9L200.9,262.3L200.7,264.2L193.4,262.3L196.3,256.3L201.5,256.6Z" fill="url(#hatch)" stroke="#b8b8b8"/><path d="M200.4,278.5L198.3,280.3L197.4,283.2L196.2,285.2L197.6,288.4L197.1,289.9L199.4,291.0L202.8,291.2L208.5,293.1L207.7,294.9L208.3,298.8L209.4,302.7L209.6,306.1L211.6,307.1L213.9,307.1L216.3,304.0L216.3,299.3L219.1,298.8L223.3,297.5L223.8,295.7L222.7,293.8L225.7,291.5L226.3,287.6L228.2,285.8L222.7,280.6L217.0,280.6L207.9,280.0L203.6,276.1L200.1,276.7Z" fill="#03578b" stroke="#6f8294"/><path d="M226.3,287.6L225.7,291.5L222.7,293.8L223.8,295.7L225.6,297.5L226.7,300.1L225.9,302.7L228.9,305.8L233.5,304.3L232.4,300.1L232.1,293.6L233.8,291.0L228.2,285.8Z" fill="#044571" stroke="#6f8294"/><path d="M178.9,318.3L180.1,320.9L182.0,322.2L183.5,318.3L188.7,315.7L190.5,311.5L190.4,309.5L186.3,308.2L182.2,305.6L179.4,305.3L177.1,311.8L176.7,315.7L178.4,318.3Z" fill="#044571" stroke="#6f8294"/><path d="M204.4,337.6L206.5,341.7L206.1,346.4L205.5,349.8L206.6,351.4L205.5,354.2L206.8,356.1L208.5,360.0L209.7,365.2L212.3,368.6L215.5,366.7L218.9,368.6L222.0,366.5L223.9,362.6L227.7,359.4L231.9,360.8L231.8,354.8L230.4,351.6L226.4,348.8L225.9,345.1L220.7,343.0L216.0,341.0L213.9,335.2L211.1,334.7L207.8,337.1Z" fill="#0a6eae" stroke="#6f8294"/><path d="M719.3,323.5L736.7,333.9L734.9,339.1L717.8,328.7Z" fill="url(#hatch)" stroke="#b8b8b8"/><path d="M741.0,344.3L751.0,345.7L747.4,361.3L737.9,358.7Z" fill="url(#hatch)" stroke="#b8b8b8"/><path d="M405.2,198.4L406.7,196.8L408.9,198.1L410.3,199.2L411.6,201.7L407.7,202.8L406.6,202.3L406.6,200.2Z" fill="#03578b" stroke="#6f8294"/><path d="M432.6,216.0L439.0,216.0L437.7,219.4L433.0,219.6Z" fill="#3a8ec0" stroke="#6f8294"/><path d="M650.7,301.4L661.1,301.4L665.7,315.7L664.3,320.9L651.7,320.9Z" fill="#6fa6cd" stroke="#6f8294"/></g><g clip-path="url(#lc)" fill="none" stroke="#7f93a3" stroke-width="0.45" stroke-linejoin="round"><path d="M115.6,182.0L172.1,182.0L172.6,181.0L182.1,184.6L190.8,188.4L193.7,191.5L191.6,197.4L198.5,197.6L205.4,194.3L209.4,192.2L216.0,192.2L220.6,187.9L222.9,186.1L225.3,187.1L224.2,190.7L225.3,192.2"/><path d="M129.3,133.0L105.2,154.2L108.1,155.0L108.9,156.9L114.0,155.4L114.7,158.8L113.9,164.6L114.4,166.3L113.1,167.8"/><path d="M107.0,224.6L112.5,224.1L119.4,227.7L125.5,227.7L125.9,226.4L129.7,226.4L132.4,232.1L135.3,233.7L136.9,231.6L140.3,231.6L142.1,237.6L146.4,241.5"/><path d="M153.3,271.4L153.5,269.4L154.9,267.5L157.9,267.3L158.4,262.9L161.1,262.9L163.4,261.0"/><path d="M161.1,262.9L160.6,267.8L162.8,268.3"/><path d="M157.9,273.5L159.7,271.7L160.4,271.7"/><path d="M173.3,288.1L174.2,284.2"/><path d="M186.0,286.5L184.7,290.5"/><path d="M190.4,309.5L194.4,312.6L202.6,320.1L203.6,306.6L209.3,306.1"/><path d="M202.6,320.1L196.2,328.7L196.2,333.7L202.1,337.8L204.4,337.6"/><path d="M204.1,356.8L205.5,354.2"/><path d="M231.9,360.8L234.0,367.0L237.9,367.3L241.0,371.7L241.4,375.9L243.6,380.0L239.5,382.6L236.3,387.8L241.3,389.9L247.0,396.9"/><path d="M222.0,366.5L226.5,371.2L234.1,378.2L241.4,375.9"/><path d="M236.3,387.8L236.3,397.7"/><path d="M212.3,368.6L209.9,373.0L210.8,379.5L208.6,386.0L210.4,395.1L211.2,402.9L212.5,412.0L212.8,418.5L216.9,428.7L217.2,437.6L220.6,442.6L229.2,444.6"/><path d="M229.1,445.4L231.5,451.1"/><path d="M232.5,293.6L232.4,300.1"/><path d="M239.4,294.4L238.8,303.2L242.7,303.0L244.8,298.3"/><path d="M233.5,304.3L238.8,303.2"/><path d="M347.5,212.4L347.4,208.2L348.5,206.4L348.9,200.2L346.2,199.9L344.7,200.2"/><path d="M359.7,196.3L364.9,197.9L369.9,198.6"/><path d="M368.4,176.8L371.8,179.5L375.0,180.8L376.2,181.5L379.9,182.0L378.8,185.6L375.7,189.2L377.8,189.9L377.0,192.0L379.0,195.3"/><path d="M370.1,176.0L373.3,175.8L374.9,177.5L375.2,174.8L377.1,174.0L376.8,171.0"/><path d="M374.9,177.5L375.8,179.3L375.0,180.8"/><path d="M379.9,167.3L382.4,167.6"/><path d="M391.1,169.8L392.0,173.3L393.1,177.0L387.5,178.8L391.2,182.6L389.8,185.8L384.7,185.8L382.9,185.8L378.8,185.6"/><path d="M375.7,189.2L377.8,189.9L380.8,189.7L381.9,190.2L384.8,188.4L382.9,185.8"/><path d="M384.8,187.4L388.2,187.1L391.4,188.4L391.3,190.7"/><path d="M391.2,182.6L393.5,182.0L397.7,183.1L398.0,184.6L396.9,185.8L396.2,187.4L391.4,188.4"/><path d="M393.1,177.0L396.3,178.8L401.1,180.8L408.8,181.8"/><path d="M397.7,183.1L401.1,180.8"/><path d="M408.8,181.8L411.2,177.5L409.6,174.0L409.7,169.8L407.4,168.6L401.2,168.6"/><path d="M407.4,168.6L404.0,166.6"/><path d="M403.4,164.4L414.2,165.4"/><path d="M408.9,160.0L414.9,161.0"/><path d="M415.1,156.2L414.9,161.0L417.0,164.1"/><path d="M409.7,169.8L414.2,165.4L417.0,164.1L425.9,174.3L423.7,176.3L411.2,177.5"/><path d="M425.9,174.3L430.2,174.0L434.1,178.5L439.7,179.8L443.7,180.5L444.0,185.1L441.1,186.9"/><path d="M408.8,181.8L409.7,184.6L417.1,183.8L422.5,184.8L424.7,188.4L424.5,191.7"/><path d="M398.0,184.6L401.5,185.1L408.0,183.6L406.4,189.2L402.4,189.9L397.1,188.4L396.2,187.4"/><path d="M406.4,189.2L405.0,190.2L410.3,193.5L410.9,195.3L415.3,195.6L422.8,195.6"/><path d="M391.3,190.9L395.2,190.2L397.1,188.4"/><path d="M395.9,191.7L402.6,192.2L404.1,197.4L402.1,198.6"/><path d="M395.9,191.7L399.9,197.4"/><path d="M410.9,195.3L410.3,199.2L411.6,201.7"/><path d="M406.6,202.5L411.6,201.7"/><path d="M406.5,206.1L407.5,202.8L411.6,201.7L418.0,200.7L418.3,203.0"/><path d="M418.0,200.7L422.1,199.9"/><path d="M404.1,200.2L406.3,198.6L410.3,199.2"/><path d="M384.0,157.4L386.1,152.6L384.7,146.7L388.6,142.1L391.3,136.5L397.7,134.3L405.2,141.4"/><path d="M397.7,134.3L402.8,134.9L406.5,132.5L411.1,134.3L414.6,132.1"/><path d="M411.1,134.3L414.4,137.6L414.1,139.9L417.0,144.4L419.6,148.1L414.2,153.8"/><path d="M450.9,201.2L455.1,202.3L456.0,204.8L458.5,205.9L459.6,212.4"/><path d="M446.4,196.3L453.2,197.9L461.0,200.4"/><path d="M455.1,202.3L458.2,202.0"/><path d="M460.1,206.4L462.5,207.9"/><path d="M479.3,212.1L483.3,210.3L486.4,209.8L493.7,213.9L495.8,216.5"/><path d="M462.6,188.9L458.3,183.8L457.2,183.6L463.4,176.8L474.1,178.0L479.3,177.0L485.3,177.0L481.4,174.5L483.5,169.5L489.7,168.3L495.5,166.1L505.7,169.5L511.6,168.6L516.2,173.3L522.0,177.0L527.9,177.0L533.2,179.8L538.7,181.8"/><path d="M474.5,199.7L481.3,201.7"/><path d="M381.9,213.1L381.2,218.1L379.8,222.0L383.5,230.3"/><path d="M388.5,222.8L385.8,227.2L385.2,230.6"/><path d="M400.0,383.7L407.8,383.1L408.2,373.8"/><path d="M593.1,292.3L595.3,294.1L597.8,293.1"/><path d="M349.2,166.8L348.0,168.3L351.2,169.3"/><path d="M440.6,232.4L438.6,227.7"/><path d="M440.1,223.0L441.5,222.5"/><path d="M352.0,215.7L351.7,215.2"/></g><g fill="#fff"><path d="M424.5,202.3L422.1,199.9L420.9,198.6L421.5,196.8L422.6,194.3L424.5,191.7L426.1,188.4L427.7,188.1L429.9,189.4L430.2,191.2L432.7,193.5L434.6,193.0L436.6,192.2L438.7,191.2L435.0,188.9L439.7,186.9L442.5,186.6L441.3,189.7L440.1,191.5L441.5,193.0L445.9,195.8L450.6,199.9L447.1,202.5L439.8,201.7L437.2,199.9L432.6,200.2L430.3,201.5L426.6,202.0Z"/><path d="M460.8,190.2L463.5,188.4L469.0,186.9L471.5,187.6L473.3,190.9L467.4,193.5L469.8,195.8L473.9,199.9L475.9,201.2L475.7,205.1L478.3,209.0L479.3,212.1L479.5,213.1L474.3,213.7L470.7,211.8L467.9,209.2L469.2,204.1L470.0,203.8L467.8,202.5L464.6,199.7L462.5,197.4L461.9,194.8L460.4,192.7Z"/></g></g><!--endmap-->
</svg>

<div class="t ft" id="src" style="left:17px;top:549px;letter-spacing:-0.14px"><b>Data source:</b> Ariel Karlinksy (2024)</div>
<div class="t ft" id="url" style="right:19px;top:549px;letter-spacing:0.05px">OurWorldinData.org/causes-of-death | CC BY</div>
<div class="t ft" id="note" style="left:17px;top:569px;letter-spacing:-0.04px"><b>Note:</b> Expected deaths are estimated from three international sources (UN, WHO, IHME) using household surveys and censuses.</div>
</body></html>
